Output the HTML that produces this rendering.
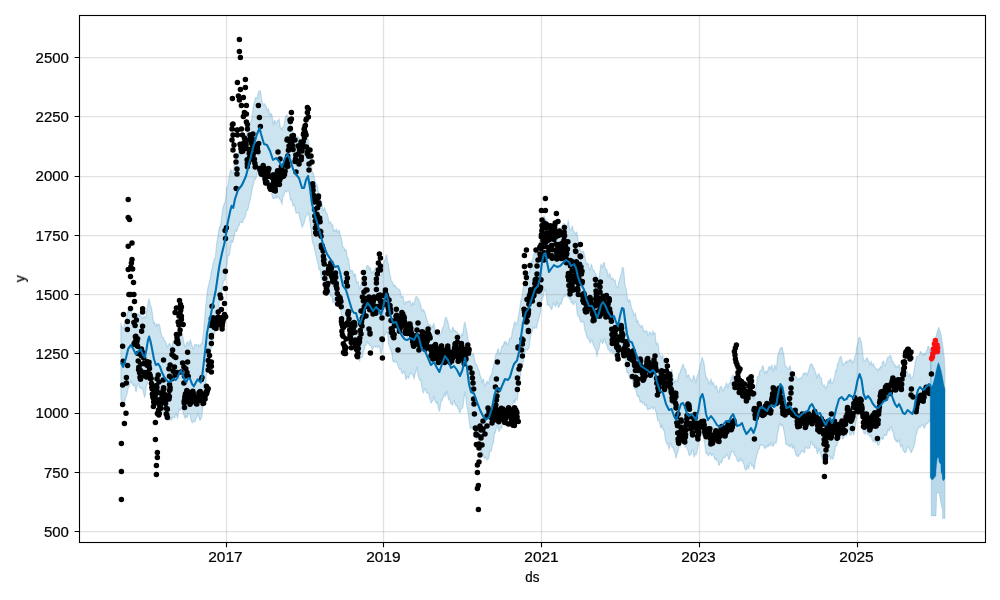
<!DOCTYPE html><html><head><meta charset="utf-8"><title>forecast</title>
<style>html,body{margin:0;padding:0;background:#fff}body{width:1000px;height:600px;overflow:hidden}svg{display:block}text{font-family:"Liberation Sans",sans-serif;fill:#000;stroke:#000;stroke-width:0.22px}</style></head><body>
<svg width="1000" height="600" viewBox="0 0 1000 600">
<rect width="1000" height="600" fill="#fff"/>
<defs><clipPath id="c"><rect x="79.5" y="15.5" width="906.0" height="527.0"/></clipPath></defs>
<g clip-path="url(#c)">
<path d="M120.9 323.3 L121.6 326.1 L122.3 327.1 L123.0 327.9 L123.7 328.2 L124.4 323.8 L125.1 322.1 L125.8 319.7 L126.5 317.5 L127.2 314.9 L127.9 310.5 L128.6 310.2 L129.3 312.4 L130.0 310.0 L130.7 306.2 L131.4 309.4 L132.1 314.6 L132.8 315.5 L133.5 314.2 L134.2 317.6 L134.9 317.6 L135.6 318.6 L136.3 319.4 L137.0 315.3 L137.7 313.6 L138.4 313.5 L139.1 316.1 L139.8 315.0 L140.5 313.4 L141.2 316.4 L141.9 317.2 L142.6 318.5 L143.3 317.4 L144.0 316.2 L144.7 317.8 L145.4 317.7 L146.1 315.5 L146.8 310.0 L147.5 306.4 L148.2 303.2 L148.9 298.6 L149.6 301.2 L150.3 305.4 L151.0 306.1 L151.7 309.1 L152.4 313.9 L153.1 319.0 L153.8 323.6 L154.5 321.9 L155.2 325.4 L155.9 326.4 L156.6 323.5 L157.3 326.1 L158.0 324.5 L158.7 324.0 L159.4 324.6 L160.1 327.6 L160.8 332.9 L161.5 334.6 L162.2 336.9 L162.9 337.2 L163.6 337.8 L164.3 340.4 L165.0 340.9 L165.7 341.9 L166.4 343.9 L167.1 347.0 L167.8 346.0 L168.5 344.9 L169.2 343.2 L169.9 343.5 L170.6 345.7 L171.3 347.0 L172.0 347.0 L172.7 343.2 L173.4 340.8 L174.1 342.8 L174.8 341.5 L175.5 340.9 L176.2 341.1 L176.9 338.1 L177.6 336.7 L178.3 337.7 L179.0 336.2 L179.7 332.3 L180.4 332.6 L181.1 334.8 L181.8 334.8 L182.5 334.3 L183.2 338.6 L183.9 342.8 L184.6 346.1 L185.3 346.7 L186.0 345.0 L186.7 342.8 L187.4 341.6 L188.1 342.9 L188.8 345.5 L189.5 342.5 L190.2 339.6 L190.9 341.8 L191.6 343.9 L192.3 346.4 L193.0 349.0 L193.7 348.6 L194.4 345.2 L195.1 344.4 L195.8 344.7 L196.5 344.2 L197.2 345.6 L197.9 345.8 L198.6 344.5 L199.3 345.2 L200.0 346.6 L200.7 344.8 L201.4 343.2 L202.1 343.3 L202.8 337.6 L203.5 331.8 L204.2 323.4 L204.9 314.7 L205.6 307.0 L206.3 301.4 L207.0 294.5 L207.7 288.6 L208.4 285.9 L209.1 282.9 L209.8 280.2 L210.5 277.1 L211.2 272.1 L211.9 269.1 L212.6 266.0 L213.3 263.5 L214.0 259.6 L214.7 258.4 L215.4 257.5 L216.1 248.9 L216.8 242.6 L217.5 238.8 L218.2 234.6 L218.9 229.0 L219.6 226.8 L220.3 227.3 L221.0 222.2 L221.7 216.1 L222.4 211.4 L223.1 206.9 L223.8 205.2 L224.5 202.8 L225.2 201.7 L225.9 196.7 L226.6 187.5 L227.3 186.9 L228.0 185.9 L228.7 179.1 L229.4 175.9 L230.1 172.1 L230.8 169.4 L231.5 170.9 L232.2 172.9 L232.9 173.6 L233.6 169.3 L234.3 164.3 L235.0 160.4 L235.7 160.1 L236.4 159.7 L237.1 157.6 L237.8 154.6 L238.5 152.0 L239.2 153.3 L239.9 155.8 L240.6 155.1 L241.3 153.4 L242.0 152.4 L242.7 150.5 L243.4 146.3 L244.1 142.1 L244.8 141.1 L245.5 137.3 L246.2 134.0 L246.9 132.3 L247.6 130.5 L248.3 129.6 L249.0 129.9 L249.7 124.7 L250.4 121.8 L251.1 121.4 L251.8 118.7 L252.5 113.1 L253.2 107.1 L253.9 104.1 L254.6 101.5 L255.3 97.9 L256.0 97.4 L256.7 98.1 L257.4 97.0 L258.1 93.5 L258.8 91.1 L259.5 90.9 L260.2 90.7 L260.9 93.4 L261.6 99.5 L262.3 102.4 L263.0 104.0 L263.7 105.0 L264.4 103.5 L265.1 105.2 L265.8 106.1 L266.5 106.9 L267.2 110.3 L267.9 109.9 L268.6 108.7 L269.3 112.6 L270.0 115.4 L270.7 114.1 L271.4 113.5 L272.1 115.9 L272.8 121.5 L273.5 124.7 L274.2 120.8 L274.9 120.5 L275.6 123.7 L276.3 123.0 L277.0 120.9 L277.7 120.8 L278.4 120.5 L279.1 118.9 L279.8 124.1 L280.5 128.3 L281.2 127.7 L281.9 130.4 L282.6 128.4 L283.3 126.0 L284.0 125.7 L284.7 120.6 L285.4 116.6 L286.1 115.9 L286.8 114.8 L287.5 115.4 L288.2 116.7 L288.9 117.7 L289.6 118.3 L290.3 122.2 L291.0 125.6 L291.7 125.9 L292.4 129.2 L293.1 133.4 L293.8 134.0 L294.5 135.7 L295.2 137.4 L295.9 136.8 L296.6 137.7 L297.3 136.3 L298.0 136.7 L298.7 138.3 L299.4 138.0 L300.1 144.1 L300.8 147.2 L301.5 148.0 L302.2 152.2 L302.9 152.6 L303.6 150.8 L304.3 149.4 L305.0 147.6 L305.7 145.9 L306.4 141.9 L307.1 139.5 L307.8 138.7 L308.5 140.0 L309.2 146.6 L309.9 151.8 L310.6 156.3 L311.3 164.0 L312.0 171.2 L312.7 172.6 L313.4 174.0 L314.1 177.1 L314.8 179.4 L315.5 182.6 L316.2 184.4 L316.9 184.7 L317.6 187.3 L318.3 191.7 L319.0 195.3 L319.7 197.6 L320.4 201.2 L321.1 201.0 L321.8 201.9 L322.5 207.2 L323.2 210.8 L323.9 209.0 L324.6 207.5 L325.3 210.6 L326.0 212.2 L326.7 213.0 L327.4 214.4 L328.1 217.3 L328.8 221.5 L329.5 223.6 L330.2 221.8 L330.9 222.0 L331.6 225.5 L332.3 224.2 L333.0 226.4 L333.7 231.5 L334.4 229.7 L335.1 230.7 L335.8 231.2 L336.5 228.9 L337.2 231.3 L337.9 232.7 L338.6 230.7 L339.3 230.2 L340.0 233.9 L340.7 236.7 L341.4 238.6 L342.1 241.8 L342.8 247.4 L343.5 247.6 L344.2 247.8 L344.9 250.9 L345.6 249.5 L346.3 250.5 L347.0 255.5 L347.7 258.7 L348.4 258.5 L349.1 263.0 L349.8 268.5 L350.5 271.6 L351.2 270.9 L351.9 270.1 L352.6 271.0 L353.3 274.3 L354.0 276.4 L354.7 273.5 L355.4 274.2 L356.1 278.6 L356.8 282.8 L357.5 282.3 L358.2 281.5 L358.9 285.8 L359.6 289.1 L360.3 288.1 L361.0 283.8 L361.7 277.3 L362.4 277.8 L363.1 277.1 L363.8 272.0 L364.5 272.0 L365.2 272.4 L365.9 270.5 L366.6 266.7 L367.3 265.7 L368.0 265.6 L368.7 266.5 L369.4 269.1 L370.1 267.6 L370.8 269.3 L371.5 273.1 L372.2 272.9 L372.9 271.1 L373.6 271.7 L374.3 271.2 L375.0 268.4 L375.7 267.1 L376.4 266.9 L377.1 267.8 L377.8 269.6 L378.5 270.8 L379.2 273.8 L379.9 275.5 L380.6 276.1 L381.3 275.5 L382.0 272.4 L382.7 269.2 L383.4 265.7 L384.1 261.1 L384.8 259.8 L385.5 259.6 L386.2 254.9 L386.9 256.0 L387.6 262.1 L388.3 264.2 L389.0 268.5 L389.7 274.0 L390.4 275.8 L391.1 279.7 L391.8 281.4 L392.5 282.0 L393.2 284.8 L393.9 286.7 L394.6 284.9 L395.3 285.4 L396.0 286.8 L396.7 287.7 L397.4 288.3 L398.1 288.8 L398.8 289.1 L399.5 289.7 L400.2 291.2 L400.9 295.2 L401.6 297.5 L402.3 296.0 L403.0 296.1 L403.7 299.9 L404.4 304.3 L405.1 304.2 L405.8 301.8 L406.5 301.5 L407.2 301.6 L407.9 302.2 L408.6 301.3 L409.3 300.8 L410.0 301.0 L410.7 302.9 L411.4 306.2 L412.1 304.8 L412.8 302.0 L413.5 304.3 L414.2 304.5 L414.9 300.4 L415.6 297.6 L416.3 296.3 L417.0 297.1 L417.7 298.8 L418.4 298.9 L419.1 300.5 L419.8 302.5 L420.5 304.2 L421.2 307.4 L421.9 310.8 L422.6 311.2 L423.3 309.3 L424.0 310.7 L424.7 311.9 L425.4 314.2 L426.1 317.1 L426.8 319.5 L427.5 321.7 L428.2 323.2 L428.9 325.2 L429.6 325.3 L430.3 324.5 L431.0 328.8 L431.7 327.3 L432.4 325.4 L433.1 326.9 L433.8 323.2 L434.5 326.1 L435.2 331.3 L435.9 331.8 L436.6 332.4 L437.3 334.6 L438.0 333.1 L438.7 333.0 L439.4 335.8 L440.1 335.2 L440.8 334.4 L441.5 332.2 L442.2 329.2 L442.9 327.6 L443.6 326.2 L444.3 323.4 L445.0 319.5 L445.7 317.3 L446.4 317.8 L447.1 320.2 L447.8 321.0 L448.5 324.7 L449.2 328.6 L449.9 329.6 L450.6 331.7 L451.3 331.6 L452.0 330.5 L452.7 327.0 L453.4 327.9 L454.1 331.0 L454.8 330.6 L455.5 330.6 L456.2 332.2 L456.9 331.3 L457.6 333.0 L458.3 335.2 L459.0 333.6 L459.7 335.1 L460.4 337.6 L461.1 335.6 L461.8 333.9 L462.5 335.7 L463.2 331.3 L463.9 325.4 L464.6 322.2 L465.3 323.2 L466.0 327.9 L466.7 331.1 L467.4 335.3 L468.1 340.0 L468.8 343.4 L469.5 347.8 L470.2 353.3 L470.9 356.3 L471.6 356.2 L472.3 355.3 L473.0 353.3 L473.7 354.4 L474.4 358.4 L475.1 362.3 L475.8 364.3 L476.5 364.5 L477.2 365.7 L477.9 368.3 L478.6 370.0 L479.3 370.9 L480.0 374.7 L480.7 376.4 L481.4 378.2 L482.1 382.9 L482.8 380.0 L483.5 378.8 L484.2 383.2 L484.9 386.1 L485.6 385.2 L486.3 382.4 L487.0 380.8 L487.7 383.4 L488.4 383.0 L489.1 380.7 L489.8 378.1 L490.5 375.6 L491.2 377.0 L491.9 373.0 L492.6 369.0 L493.3 367.0 L494.0 363.7 L494.7 361.2 L495.4 355.9 L496.1 353.7 L496.8 353.7 L497.5 350.2 L498.2 348.6 L498.9 351.4 L499.6 354.1 L500.3 352.9 L501.0 349.8 L501.7 346.8 L502.4 345.9 L503.1 346.5 L503.8 343.4 L504.5 341.4 L505.2 344.0 L505.9 341.4 L506.6 342.1 L507.3 345.1 L508.0 345.2 L508.7 342.3 L509.4 338.8 L510.1 338.0 L510.8 338.4 L511.5 336.8 L512.2 331.6 L512.9 328.8 L513.6 326.3 L514.3 323.0 L515.0 321.4 L515.7 324.1 L516.4 324.1 L517.1 323.5 L517.8 320.3 L518.5 315.2 L519.2 312.8 L519.9 307.2 L520.6 301.3 L521.3 299.6 L522.0 297.0 L522.7 291.5 L523.4 286.8 L524.1 285.1 L524.8 283.9 L525.5 279.7 L526.2 276.6 L526.9 273.5 L527.6 272.6 L528.3 273.4 L529.0 272.6 L529.7 270.6 L530.4 266.1 L531.1 261.1 L531.8 261.7 L532.5 259.9 L533.2 255.7 L533.9 254.6 L534.6 251.7 L535.3 252.5 L536.0 254.8 L536.7 252.0 L537.4 249.8 L538.1 249.0 L538.8 245.8 L539.5 243.4 L540.2 238.0 L540.9 229.7 L541.6 224.3 L542.3 223.3 L543.0 221.7 L543.7 215.9 L544.4 216.2 L545.1 219.2 L545.8 219.2 L546.5 220.4 L547.2 223.0 L547.9 226.3 L548.6 230.5 L549.3 232.0 L550.0 230.5 L550.7 230.2 L551.4 230.7 L552.1 232.7 L552.8 232.6 L553.5 229.5 L554.2 227.5 L554.9 228.4 L555.6 228.7 L556.3 228.4 L557.0 227.4 L557.7 227.3 L558.4 231.1 L559.1 230.2 L559.8 227.9 L560.5 229.6 L561.2 230.5 L561.9 228.0 L562.6 224.6 L563.3 223.8 L564.0 223.6 L564.7 223.8 L565.4 225.6 L566.1 226.9 L566.8 227.0 L567.5 223.7 L568.2 220.4 L568.9 224.3 L569.6 229.4 L570.3 229.8 L571.0 229.8 L571.7 227.2 L572.4 225.9 L573.1 229.5 L573.8 231.0 L574.5 232.3 L575.2 234.3 L575.9 233.0 L576.6 232.0 L577.3 234.8 L578.0 239.8 L578.7 244.2 L579.4 248.2 L580.1 250.3 L580.8 250.1 L581.5 251.3 L582.2 251.6 L582.9 251.8 L583.6 251.2 L584.3 254.2 L585.0 258.0 L585.7 260.3 L586.4 264.5 L587.1 263.6 L587.8 263.1 L588.5 264.8 L589.2 268.4 L589.9 270.4 L590.6 268.0 L591.3 264.1 L592.0 266.0 L592.7 269.7 L593.4 270.5 L594.1 270.3 L594.8 272.6 L595.5 273.6 L596.2 274.3 L596.9 278.1 L597.6 279.8 L598.3 278.9 L599.0 276.8 L599.7 273.3 L600.4 267.5 L601.1 264.0 L601.8 266.2 L602.5 267.5 L603.2 264.1 L603.9 262.1 L604.6 264.0 L605.3 268.2 L606.0 269.5 L606.7 269.3 L607.4 272.0 L608.1 276.8 L608.8 276.0 L609.5 273.2 L610.2 274.9 L610.9 277.8 L611.6 279.3 L612.3 278.0 L613.0 278.3 L613.7 280.4 L614.4 280.2 L615.1 279.9 L615.8 284.1 L616.5 286.2 L617.2 286.9 L617.9 288.0 L618.6 282.5 L619.3 280.8 L620.0 277.7 L620.7 275.7 L621.4 273.8 L622.1 268.1 L622.8 267.3 L623.5 268.7 L624.2 275.5 L624.9 284.3 L625.6 287.0 L626.3 289.4 L627.0 294.6 L627.7 299.6 L628.4 301.8 L629.1 299.8 L629.8 299.8 L630.5 302.3 L631.2 306.4 L631.9 309.0 L632.6 310.0 L633.3 312.5 L634.0 315.4 L634.7 314.3 L635.4 312.9 L636.1 317.7 L636.8 322.1 L637.5 319.9 L638.2 321.3 L638.9 324.5 L639.6 324.8 L640.3 326.3 L641.0 327.0 L641.7 325.1 L642.4 326.1 L643.1 328.1 L643.8 331.6 L644.5 331.0 L645.2 331.5 L645.9 332.4 L646.6 330.1 L647.3 333.1 L648.0 335.8 L648.7 334.6 L649.4 331.7 L650.1 332.3 L650.8 333.2 L651.5 334.6 L652.2 333.2 L652.9 330.5 L653.6 334.4 L654.3 333.7 L655.0 332.4 L655.7 339.3 L656.4 344.2 L657.1 343.9 L657.8 342.7 L658.5 346.2 L659.2 352.3 L659.9 355.2 L660.6 355.2 L661.3 358.5 L662.0 357.1 L662.7 354.8 L663.4 359.2 L664.1 363.0 L664.8 362.5 L665.5 365.5 L666.2 368.0 L666.9 367.4 L667.6 367.4 L668.3 371.0 L669.0 376.4 L669.7 375.4 L670.4 375.2 L671.1 372.2 L671.8 369.4 L672.5 373.5 L673.2 378.8 L673.9 383.0 L674.6 381.7 L675.3 379.6 L676.0 381.0 L676.7 381.6 L677.4 381.1 L678.1 377.0 L678.8 373.8 L679.5 374.0 L680.2 372.0 L680.9 369.6 L681.6 368.1 L682.3 365.7 L683.0 364.1 L683.7 365.6 L684.4 369.1 L685.1 369.4 L685.8 369.2 L686.5 375.2 L687.2 377.4 L687.9 375.0 L688.6 374.7 L689.3 377.1 L690.0 377.9 L690.7 379.2 L691.4 381.2 L692.1 380.7 L692.8 378.8 L693.5 375.6 L694.2 375.8 L694.9 378.7 L695.6 382.5 L696.3 381.6 L697.0 376.5 L697.7 374.7 L698.4 373.6 L699.1 370.5 L699.8 366.9 L700.5 363.9 L701.2 362.1 L701.9 357.4 L702.6 358.0 L703.3 361.3 L704.0 362.7 L704.7 368.0 L705.4 373.7 L706.1 377.4 L706.8 377.3 L707.5 379.6 L708.2 380.4 L708.9 383.1 L709.6 384.1 L710.3 380.7 L711.0 378.9 L711.7 382.8 L712.4 384.3 L713.1 381.8 L713.8 384.1 L714.5 385.9 L715.2 387.8 L715.9 386.5 L716.6 385.4 L717.3 389.5 L718.0 391.6 L718.7 392.5 L719.4 389.4 L720.1 387.1 L720.8 387.0 L721.5 386.1 L722.2 389.4 L722.9 390.7 L723.6 389.7 L724.3 387.8 L725.0 386.6 L725.7 385.7 L726.4 382.7 L727.1 384.4 L727.8 387.7 L728.5 384.9 L729.2 383.0 L729.9 383.6 L730.6 380.2 L731.3 378.1 L732.0 376.7 L732.7 374.9 L733.4 376.0 L734.1 379.5 L734.8 383.0 L735.5 383.5 L736.2 383.1 L736.9 386.3 L737.6 389.4 L738.3 388.6 L739.0 386.7 L739.7 386.5 L740.4 388.2 L741.1 389.0 L741.8 385.1 L742.5 384.8 L743.2 388.4 L743.9 392.5 L744.6 395.1 L745.3 394.5 L746.0 393.9 L746.7 397.1 L747.4 397.4 L748.1 394.1 L748.8 392.8 L749.5 394.8 L750.2 393.8 L750.9 391.0 L751.6 392.2 L752.3 392.9 L753.0 396.5 L753.7 399.1 L754.4 394.8 L755.1 389.2 L755.8 388.8 L756.5 385.2 L757.2 377.8 L757.9 376.7 L758.6 376.2 L759.3 372.8 L760.0 370.6 L760.7 370.6 L761.4 370.5 L762.1 367.0 L762.8 365.6 L763.5 367.9 L764.2 371.3 L764.9 373.6 L765.6 371.7 L766.3 371.0 L767.0 372.8 L767.7 370.8 L768.4 368.4 L769.1 366.2 L769.8 367.3 L770.5 369.2 L771.2 366.8 L771.9 364.8 L772.6 368.5 L773.3 371.2 L774.0 369.1 L774.7 364.5 L775.4 366.9 L776.1 369.7 L776.8 364.9 L777.5 356.5 L778.2 354.3 L778.9 352.6 L779.6 349.7 L780.3 348.0 L781.0 348.1 L781.7 347.1 L782.4 348.0 L783.1 352.1 L783.8 354.2 L784.5 360.8 L785.2 366.2 L785.9 366.8 L786.6 366.4 L787.3 368.3 L788.0 369.4 L788.7 369.1 L789.4 366.8 L790.1 365.7 L790.8 369.6 L791.5 373.7 L792.2 371.8 L792.9 371.8 L793.6 375.9 L794.3 374.5 L795.0 375.8 L795.7 377.1 L796.4 376.7 L797.1 379.1 L797.8 379.7 L798.5 378.9 L799.2 378.1 L799.9 378.7 L800.6 378.0 L801.3 377.6 L802.0 377.0 L802.7 375.6 L803.4 373.2 L804.1 372.9 L804.8 374.5 L805.5 372.5 L806.2 373.4 L806.9 375.7 L807.6 374.1 L808.3 370.5 L809.0 368.8 L809.7 366.8 L810.4 364.1 L811.1 364.8 L811.8 364.0 L812.5 364.8 L813.2 368.1 L813.9 367.7 L814.6 369.6 L815.3 371.7 L816.0 373.5 L816.7 378.0 L817.4 377.5 L818.1 374.0 L818.8 373.8 L819.5 375.0 L820.2 377.3 L820.9 377.6 L821.6 378.8 L822.3 384.3 L823.0 385.3 L823.7 385.9 L824.4 384.8 L825.1 386.9 L825.8 388.8 L826.5 386.5 L827.2 386.9 L827.9 381.9 L828.6 380.5 L829.3 383.2 L830.0 379.3 L830.7 378.5 L831.4 383.3 L832.1 383.0 L832.8 381.9 L833.5 380.7 L834.2 378.2 L834.9 374.7 L835.6 370.4 L836.3 371.0 L837.0 367.2 L837.7 363.3 L838.4 362.2 L839.1 360.3 L839.8 357.7 L840.5 356.6 L841.2 356.6 L841.9 360.0 L842.6 363.2 L843.3 365.2 L844.0 363.8 L844.7 363.0 L845.4 362.5 L846.1 361.1 L846.8 362.9 L847.5 361.0 L848.2 360.8 L848.9 360.7 L849.6 359.5 L850.3 361.3 L851.0 359.6 L851.7 360.6 L852.4 363.5 L853.1 361.3 L853.8 361.7 L854.5 357.8 L855.2 355.8 L855.9 354.1 L856.6 347.8 L857.3 345.2 L858.0 342.8 L858.7 338.1 L859.4 337.3 L860.1 338.1 L860.8 340.5 L861.5 343.6 L862.2 347.2 L862.9 355.4 L863.6 360.1 L864.3 360.4 L865.0 360.9 L865.7 360.2 L866.4 358.1 L867.1 357.9 L867.8 359.6 L868.5 361.3 L869.2 361.7 L869.9 364.6 L870.6 363.9 L871.3 361.1 L872.0 364.8 L872.7 365.3 L873.4 363.4 L874.1 365.7 L874.8 366.9 L875.5 367.8 L876.2 368.7 L876.9 369.0 L877.6 371.0 L878.3 369.1 L879.0 368.6 L879.7 369.1 L880.4 366.2 L881.1 367.6 L881.8 367.1 L882.5 362.4 L883.2 360.8 L883.9 362.1 L884.6 365.2 L885.3 365.6 L886.0 363.3 L886.7 360.7 L887.4 357.7 L888.1 357.4 L888.8 357.8 L889.5 355.6 L890.2 355.7 L890.9 355.7 L891.6 358.8 L892.3 362.2 L893.0 361.2 L893.7 363.8 L894.4 364.6 L895.1 364.6 L895.8 367.3 L896.5 367.0 L897.2 365.9 L897.9 367.3 L898.6 366.0 L899.3 364.2 L900.0 369.8 L900.7 369.4 L901.4 367.6 L902.1 371.5 L902.8 374.6 L903.5 375.5 L904.2 377.2 L904.9 376.8 L905.6 373.7 L906.3 373.2 L907.0 371.0 L907.7 372.8 L908.4 376.6 L909.1 376.4 L909.8 373.5 L910.5 374.9 L911.2 378.8 L911.9 377.7 L912.6 377.5 L913.3 375.3 L914.0 370.9 L914.7 366.3 L915.4 361.9 L916.1 358.6 L916.8 356.3 L917.5 356.7 L918.2 356.0 L918.9 355.4 L919.6 354.4 L920.3 351.5 L921.0 351.5 L921.7 353.0 L922.4 354.5 L923.1 355.3 L923.8 353.3 L924.5 353.2 L925.2 355.2 L925.9 352.3 L926.6 351.2 L927.3 349.6 L928.0 346.1 L928.7 346.4 L929.4 348.6 L930.1 352.5 L930.8 353.2 L931.0 350.7 L931.0 421.7 L930.8 422.3 L930.1 420.9 L929.4 420.1 L928.7 422.0 L928.0 423.0 L927.3 423.9 L926.6 423.0 L925.9 424.2 L925.2 426.2 L924.5 428.1 L923.8 428.1 L923.1 424.3 L922.4 424.9 L921.7 425.4 L921.0 426.1 L920.3 427.0 L919.6 426.4 L918.9 428.0 L918.2 428.5 L917.5 429.8 L916.8 433.7 L916.1 434.6 L915.4 439.5 L914.7 444.3 L914.0 446.2 L913.3 448.5 L912.6 449.5 L911.9 451.2 L911.2 453.0 L910.5 450.9 L909.8 449.7 L909.1 448.5 L908.4 446.8 L907.7 446.6 L907.0 447.7 L906.3 452.0 L905.6 451.8 L904.9 452.7 L904.2 452.0 L903.5 450.6 L902.8 449.7 L902.1 445.4 L901.4 445.7 L900.7 447.1 L900.0 444.1 L899.3 439.6 L898.6 440.9 L897.9 442.6 L897.2 440.3 L896.5 441.8 L895.8 441.1 L895.1 438.4 L894.4 439.0 L893.7 435.9 L893.0 432.0 L892.3 431.0 L891.6 428.7 L890.9 426.8 L890.2 427.9 L889.5 430.8 L888.8 430.6 L888.1 429.3 L887.4 432.2 L886.7 434.9 L886.0 435.7 L885.3 434.7 L884.6 435.1 L883.9 436.2 L883.2 439.0 L882.5 439.4 L881.8 437.9 L881.1 438.8 L880.4 439.0 L879.7 442.5 L879.0 444.3 L878.3 445.3 L877.6 444.7 L876.9 441.5 L876.2 442.3 L875.5 442.7 L874.8 439.8 L874.1 441.5 L873.4 441.8 L872.7 440.8 L872.0 440.0 L871.3 435.7 L870.6 435.4 L869.9 437.0 L869.2 433.9 L868.5 432.8 L867.8 435.2 L867.1 432.5 L866.4 430.3 L865.7 433.7 L865.0 434.0 L864.3 433.7 L863.6 432.6 L862.9 427.4 L862.2 420.2 L861.5 413.4 L860.8 413.1 L860.1 410.8 L859.4 410.3 L858.7 414.9 L858.0 414.8 L857.3 414.7 L856.6 418.5 L855.9 422.4 L855.2 427.9 L854.5 430.6 L853.8 435.0 L853.1 434.0 L852.4 430.3 L851.7 433.3 L851.0 435.2 L850.3 435.0 L849.6 434.2 L848.9 431.1 L848.2 430.0 L847.5 430.9 L846.8 435.0 L846.1 435.8 L845.4 433.2 L844.7 434.6 L844.0 436.9 L843.3 438.6 L842.6 439.1 L841.9 436.7 L841.2 435.4 L840.5 435.5 L839.8 437.1 L839.1 436.0 L838.4 439.0 L837.7 443.1 L837.0 445.2 L836.3 446.4 L835.6 445.6 L834.9 450.2 L834.2 454.5 L833.5 457.0 L832.8 459.3 L832.1 457.7 L831.4 457.1 L830.7 459.6 L830.0 456.6 L829.3 455.5 L828.6 457.5 L827.9 456.4 L827.2 455.9 L826.5 458.8 L825.8 461.5 L825.1 460.0 L824.4 457.0 L823.7 456.3 L823.0 458.2 L822.3 459.1 L821.6 457.2 L820.9 454.2 L820.2 452.8 L819.5 449.9 L818.8 448.4 L818.1 451.8 L817.4 454.1 L816.7 451.4 L816.0 446.4 L815.3 447.2 L814.6 448.0 L813.9 444.5 L813.2 445.2 L812.5 445.1 L811.8 441.8 L811.1 441.9 L810.4 444.9 L809.7 447.8 L809.0 448.1 L808.3 448.4 L807.6 448.6 L806.9 447.9 L806.2 446.8 L805.5 447.7 L804.8 450.6 L804.1 453.0 L803.4 452.0 L802.7 450.9 L802.0 451.4 L801.3 451.2 L800.6 453.3 L799.9 454.6 L799.2 454.6 L798.5 456.6 L797.8 456.3 L797.1 454.8 L796.4 456.1 L795.7 454.1 L795.0 451.6 L794.3 448.7 L793.6 445.3 L792.9 448.2 L792.2 448.3 L791.5 444.0 L790.8 445.2 L790.1 446.9 L789.4 446.8 L788.7 445.0 L788.0 445.6 L787.3 444.9 L786.6 444.4 L785.9 444.2 L785.2 438.7 L784.5 434.0 L783.8 430.4 L783.1 427.2 L782.4 424.7 L781.7 425.5 L781.0 425.9 L780.3 423.1 L779.6 424.1 L778.9 427.9 L778.2 431.1 L777.5 434.2 L776.8 439.8 L776.1 443.4 L775.4 442.5 L774.7 443.0 L774.0 444.6 L773.3 446.2 L772.6 446.4 L771.9 443.8 L771.2 442.9 L770.5 445.9 L769.8 445.2 L769.1 444.1 L768.4 446.5 L767.7 445.3 L767.0 447.2 L766.3 447.2 L765.6 446.9 L764.9 448.9 L764.2 447.0 L763.5 445.3 L762.8 444.6 L762.1 445.3 L761.4 445.4 L760.7 444.7 L760.0 445.4 L759.3 449.0 L758.6 449.5 L757.9 451.2 L757.2 454.2 L756.5 456.9 L755.8 459.6 L755.1 463.4 L754.4 469.0 L753.7 468.8 L753.0 465.1 L752.3 466.0 L751.6 466.1 L750.9 463.6 L750.2 462.9 L749.5 464.2 L748.8 468.8 L748.1 468.0 L747.4 465.8 L746.7 469.7 L746.0 469.9 L745.3 469.4 L744.6 467.9 L743.9 464.1 L743.2 463.2 L742.5 460.0 L741.8 460.1 L741.1 461.3 L740.4 458.2 L739.7 459.8 L739.0 461.7 L738.3 461.6 L737.6 461.1 L736.9 459.7 L736.2 457.6 L735.5 456.2 L734.8 455.3 L734.1 453.9 L733.4 451.5 L732.7 451.7 L732.0 451.5 L731.3 452.3 L730.6 454.9 L729.9 456.5 L729.2 459.4 L728.5 459.5 L727.8 455.9 L727.1 454.3 L726.4 454.9 L725.7 455.9 L725.0 457.7 L724.3 457.4 L723.6 457.6 L722.9 458.5 L722.2 460.8 L721.5 462.7 L720.8 462.0 L720.1 462.7 L719.4 465.3 L718.7 465.2 L718.0 461.0 L717.3 460.7 L716.6 460.7 L715.9 457.9 L715.2 459.6 L714.5 459.1 L713.8 456.1 L713.1 454.4 L712.4 453.9 L711.7 456.0 L711.0 454.7 L710.3 452.7 L709.6 454.3 L708.9 455.2 L708.2 455.9 L707.5 453.6 L706.8 452.6 L706.1 454.3 L705.4 449.5 L704.7 443.5 L704.0 439.1 L703.3 437.1 L702.6 433.9 L701.9 431.3 L701.2 428.5 L700.5 431.5 L699.8 437.2 L699.1 439.4 L698.4 444.0 L697.7 448.3 L697.0 451.7 L696.3 454.8 L695.6 453.8 L694.9 455.0 L694.2 457.1 L693.5 454.3 L692.8 449.4 L692.1 450.0 L691.4 453.6 L690.7 454.4 L690.0 454.9 L689.3 455.7 L688.6 453.9 L687.9 450.3 L687.2 448.8 L686.5 446.8 L685.8 446.8 L685.1 447.1 L684.4 443.8 L683.7 440.5 L683.0 441.1 L682.3 441.0 L681.6 439.3 L680.9 442.3 L680.2 446.9 L679.5 445.5 L678.8 447.4 L678.1 451.9 L677.4 451.9 L676.7 455.9 L676.0 458.4 L675.3 454.0 L674.6 452.0 L673.9 450.7 L673.2 448.1 L672.5 447.7 L671.8 446.7 L671.1 444.6 L670.4 442.8 L669.7 445.8 L669.0 449.8 L668.3 445.7 L667.6 443.6 L666.9 444.0 L666.2 442.1 L665.5 440.2 L664.8 435.1 L664.1 430.7 L663.4 430.4 L662.7 428.3 L662.0 424.8 L661.3 427.6 L660.6 428.1 L659.9 424.2 L659.2 421.8 L658.5 420.3 L657.8 420.7 L657.1 417.7 L656.4 412.7 L655.7 411.6 L655.0 408.2 L654.3 407.2 L653.6 408.3 L652.9 409.3 L652.2 406.6 L651.5 406.6 L650.8 408.6 L650.1 409.0 L649.4 408.4 L648.7 408.5 L648.0 410.1 L647.3 408.8 L646.6 406.0 L645.9 404.6 L645.2 405.6 L644.5 405.2 L643.8 402.7 L643.1 402.6 L642.4 403.8 L641.7 401.4 L641.0 400.9 L640.3 402.3 L639.6 399.8 L638.9 395.7 L638.2 397.1 L637.5 396.2 L636.8 394.6 L636.1 390.6 L635.4 386.9 L634.7 388.8 L634.0 388.4 L633.3 384.0 L632.6 381.9 L631.9 378.9 L631.2 378.2 L630.5 379.4 L629.8 378.8 L629.1 376.9 L628.4 372.4 L627.7 372.2 L627.0 372.5 L626.3 368.2 L625.6 362.4 L624.9 355.2 L624.2 348.6 L623.5 345.1 L622.8 346.2 L622.1 343.9 L621.4 343.9 L620.7 347.2 L620.0 352.8 L619.3 358.9 L618.6 359.1 L617.9 359.0 L617.2 359.4 L616.5 358.3 L615.8 358.3 L615.1 357.1 L614.4 351.8 L613.7 351.1 L613.0 354.4 L612.3 352.3 L611.6 349.4 L610.9 350.9 L610.2 352.8 L609.5 350.1 L608.8 349.7 L608.1 349.8 L607.4 347.2 L606.7 344.5 L606.0 343.6 L605.3 343.0 L604.6 338.1 L603.9 339.9 L603.2 342.9 L602.5 343.6 L601.8 342.0 L601.1 339.6 L600.4 341.6 L599.7 344.8 L599.0 348.6 L598.3 350.0 L597.6 352.6 L596.9 356.9 L596.2 351.3 L595.5 349.5 L594.8 347.9 L594.1 346.1 L593.4 345.7 L592.7 342.4 L592.0 340.3 L591.3 339.6 L590.6 343.0 L589.9 342.8 L589.2 339.7 L588.5 339.0 L587.8 337.6 L587.1 337.8 L586.4 335.4 L585.7 331.6 L585.0 331.5 L584.3 326.3 L583.6 322.1 L582.9 321.3 L582.2 321.9 L581.5 322.3 L580.8 322.1 L580.1 320.4 L579.4 317.3 L578.7 316.5 L578.0 316.2 L577.3 314.4 L576.6 307.9 L575.9 302.8 L575.2 301.6 L574.5 302.2 L573.8 304.1 L573.1 304.8 L572.4 302.4 L571.7 302.8 L571.0 302.4 L570.3 297.8 L569.6 299.4 L568.9 297.3 L568.2 296.9 L567.5 297.1 L566.8 294.6 L566.1 294.3 L565.4 295.9 L564.7 296.4 L564.0 296.1 L563.3 297.7 L562.6 298.9 L561.9 301.6 L561.2 304.4 L560.5 303.1 L559.8 304.0 L559.1 307.1 L558.4 307.7 L557.7 304.4 L557.0 301.4 L556.3 304.7 L555.6 306.8 L554.9 305.1 L554.2 305.3 L553.5 302.9 L552.8 304.0 L552.1 308.8 L551.4 309.7 L550.7 308.2 L550.0 306.3 L549.3 306.0 L548.6 304.3 L547.9 305.1 L547.2 304.9 L546.5 297.3 L545.8 290.5 L545.1 289.5 L544.4 291.0 L543.7 295.0 L543.0 297.6 L542.3 298.7 L541.6 301.4 L540.9 308.7 L540.2 313.9 L539.5 315.0 L538.8 319.9 L538.1 321.2 L537.4 323.6 L536.7 328.3 L536.0 327.0 L535.3 327.3 L534.6 328.8 L533.9 327.3 L533.2 327.2 L532.5 329.9 L531.8 332.6 L531.1 334.3 L530.4 336.9 L529.7 343.4 L529.0 348.6 L528.3 348.6 L527.6 350.2 L526.9 349.6 L526.2 349.7 L525.5 351.1 L524.8 352.7 L524.1 356.3 L523.4 360.1 L522.7 365.9 L522.0 367.1 L521.3 367.6 L520.6 374.9 L519.9 381.6 L519.2 387.2 L518.5 390.0 L517.8 395.5 L517.1 400.6 L516.4 398.7 L515.7 398.4 L515.0 403.2 L514.3 402.5 L513.6 400.3 L512.9 404.5 L512.2 408.0 L511.5 410.6 L510.8 412.8 L510.1 415.9 L509.4 416.3 L508.7 415.1 L508.0 416.2 L507.3 417.7 L506.6 419.3 L505.9 418.7 L505.2 420.3 L504.5 423.1 L503.8 423.4 L503.1 422.0 L502.4 424.5 L501.7 428.8 L501.0 427.4 L500.3 427.6 L499.6 431.1 L498.9 431.7 L498.2 428.6 L497.5 425.6 L496.8 426.1 L496.1 429.4 L495.4 432.4 L494.7 432.9 L494.0 437.7 L493.3 443.6 L492.6 444.0 L491.9 447.6 L491.2 451.4 L490.5 450.5 L489.8 451.0 L489.1 456.9 L488.4 459.1 L487.7 459.1 L487.0 460.3 L486.3 458.3 L485.6 456.8 L484.9 458.7 L484.2 457.9 L483.5 456.9 L482.8 452.5 L482.1 451.4 L481.4 453.4 L480.7 450.7 L480.0 447.5 L479.3 444.2 L478.6 438.8 L477.9 437.0 L477.2 438.8 L476.5 439.6 L475.8 436.7 L475.1 433.7 L474.4 430.7 L473.7 430.4 L473.0 429.7 L472.3 426.8 L471.6 427.2 L470.9 428.9 L470.2 427.8 L469.5 423.9 L468.8 417.4 L468.1 412.8 L467.4 409.0 L466.7 404.9 L466.0 398.5 L465.3 392.0 L464.6 394.6 L463.9 400.0 L463.2 404.9 L462.5 408.2 L461.8 408.5 L461.1 408.6 L460.4 411.5 L459.7 412.9 L459.0 410.3 L458.3 409.6 L457.6 407.2 L456.9 405.3 L456.2 406.2 L455.5 404.8 L454.8 403.5 L454.1 400.3 L453.4 401.1 L452.7 405.2 L452.0 404.2 L451.3 404.1 L450.6 403.7 L449.9 399.0 L449.2 399.4 L448.5 400.1 L447.8 394.9 L447.1 391.1 L446.4 393.3 L445.7 396.6 L445.0 392.9 L444.3 394.6 L443.6 397.4 L442.9 398.2 L442.2 400.9 L441.5 400.1 L440.8 402.7 L440.1 408.4 L439.4 411.3 L438.7 409.8 L438.0 405.6 L437.3 401.8 L436.6 403.6 L435.9 402.4 L435.2 401.0 L434.5 398.6 L433.8 396.1 L433.1 400.6 L432.4 401.1 L431.7 402.3 L431.0 403.1 L430.3 400.2 L429.6 398.1 L428.9 393.4 L428.2 393.4 L427.5 392.7 L426.8 393.2 L426.1 391.1 L425.4 388.4 L424.7 389.1 L424.0 391.4 L423.3 393.2 L422.6 390.4 L421.9 387.3 L421.2 381.9 L420.5 379.4 L419.8 380.6 L419.1 378.4 L418.4 376.3 L417.7 372.9 L417.0 367.1 L416.3 370.5 L415.6 372.0 L414.9 375.0 L414.2 379.1 L413.5 376.9 L412.8 375.0 L412.1 374.5 L411.4 373.5 L410.7 372.6 L410.0 374.1 L409.3 376.8 L408.6 378.4 L407.9 376.8 L407.2 376.4 L406.5 378.9 L405.8 379.4 L405.1 375.3 L404.4 371.9 L403.7 371.3 L403.0 373.1 L402.3 373.9 L401.6 372.3 L400.9 369.8 L400.2 369.1 L399.5 369.4 L398.8 368.0 L398.1 366.2 L397.4 364.0 L396.7 362.1 L396.0 361.5 L395.3 362.5 L394.6 361.4 L393.9 360.8 L393.2 362.2 L392.5 358.9 L391.8 352.7 L391.1 351.1 L390.4 349.2 L389.7 347.0 L389.0 345.7 L388.3 341.6 L387.6 334.1 L386.9 331.6 L386.2 332.9 L385.5 334.2 L384.8 335.2 L384.1 337.5 L383.4 341.4 L382.7 346.6 L382.0 350.5 L381.3 353.8 L380.6 353.1 L379.9 348.2 L379.2 346.5 L378.5 346.1 L377.8 347.9 L377.1 346.7 L376.4 346.0 L375.7 347.2 L375.0 346.3 L374.3 346.7 L373.6 346.7 L372.9 348.8 L372.2 349.8 L371.5 347.3 L370.8 345.5 L370.1 346.0 L369.4 345.0 L368.7 343.0 L368.0 343.9 L367.3 341.3 L366.6 342.0 L365.9 345.4 L365.2 345.0 L364.5 349.2 L363.8 350.8 L363.1 352.9 L362.4 356.8 L361.7 357.6 L361.0 356.5 L360.3 358.7 L359.6 361.5 L358.9 357.6 L358.2 357.7 L357.5 357.1 L356.8 352.0 L356.1 351.4 L355.4 351.2 L354.7 349.9 L354.0 349.0 L353.3 349.2 L352.6 346.1 L351.9 345.0 L351.2 345.0 L350.5 341.1 L349.8 339.3 L349.1 335.4 L348.4 333.0 L347.7 330.3 L347.0 328.1 L346.3 326.1 L345.6 323.4 L344.9 323.0 L344.2 322.2 L343.5 324.1 L342.8 322.0 L342.1 318.1 L341.4 315.2 L340.7 311.7 L340.0 307.0 L339.3 305.5 L338.6 305.9 L337.9 304.4 L337.2 304.0 L336.5 303.8 L335.8 303.7 L335.1 304.5 L334.4 301.5 L333.7 299.8 L333.0 302.9 L332.3 298.8 L331.6 295.1 L330.9 296.7 L330.2 295.1 L329.5 291.2 L328.8 289.6 L328.1 289.0 L327.4 291.2 L326.7 293.0 L326.0 288.3 L325.3 282.4 L324.6 283.4 L323.9 285.3 L323.2 281.4 L322.5 278.8 L321.8 279.8 L321.1 277.5 L320.4 271.1 L319.7 268.6 L319.0 270.0 L318.3 265.2 L317.6 261.4 L316.9 260.2 L316.2 256.5 L315.5 253.7 L314.8 250.8 L314.1 247.0 L313.4 244.1 L312.7 243.4 L312.0 239.4 L311.3 231.4 L310.6 227.0 L309.9 221.9 L309.2 217.5 L308.5 213.3 L307.8 212.9 L307.1 214.7 L306.4 216.0 L305.7 217.0 L305.0 219.3 L304.3 222.8 L303.6 223.7 L302.9 226.0 L302.2 227.6 L301.5 225.1 L300.8 220.7 L300.1 219.8 L299.4 216.2 L298.7 212.7 L298.0 213.0 L297.3 212.5 L296.6 213.2 L295.9 213.0 L295.2 208.8 L294.5 204.9 L293.8 204.9 L293.1 206.2 L292.4 203.2 L291.7 199.7 L291.0 200.6 L290.3 199.2 L289.6 194.3 L288.9 190.9 L288.2 190.1 L287.5 190.8 L286.8 191.8 L286.1 191.6 L285.4 190.8 L284.7 192.3 L284.0 195.5 L283.3 196.1 L282.6 198.9 L281.9 204.7 L281.2 202.2 L280.5 199.8 L279.8 199.6 L279.1 197.9 L278.4 196.3 L277.7 196.8 L277.0 198.4 L276.3 195.8 L275.6 197.7 L274.9 198.7 L274.2 197.7 L273.5 198.5 L272.8 198.4 L272.1 195.6 L271.4 192.3 L270.7 190.0 L270.0 191.6 L269.3 191.4 L268.6 186.5 L267.9 184.1 L267.2 182.1 L266.5 183.5 L265.8 185.7 L265.1 182.8 L264.4 183.9 L263.7 183.9 L263.0 178.9 L262.3 177.8 L261.6 177.7 L260.9 172.9 L260.2 169.4 L259.5 167.3 L258.8 168.0 L258.1 168.7 L257.4 171.3 L256.7 175.3 L256.0 178.5 L255.3 179.6 L254.6 178.5 L253.9 181.8 L253.2 185.3 L252.5 187.2 L251.8 191.4 L251.1 195.3 L250.4 199.0 L249.7 201.9 L249.0 204.1 L248.3 207.7 L247.6 210.3 L246.9 210.1 L246.2 211.6 L245.5 215.8 L244.8 218.1 L244.1 218.3 L243.4 219.9 L242.7 222.8 L242.0 222.2 L241.3 222.4 L240.6 222.1 L239.9 222.4 L239.2 225.4 L238.5 226.5 L237.8 227.3 L237.1 230.7 L236.4 231.4 L235.7 230.1 L235.0 232.2 L234.3 236.5 L233.6 238.7 L232.9 242.2 L232.2 242.2 L231.5 240.8 L230.8 245.9 L230.1 250.3 L229.4 254.6 L228.7 256.0 L228.0 255.3 L227.3 261.2 L226.6 266.4 L225.9 270.9 L225.2 279.4 L224.5 280.3 L223.8 280.5 L223.1 283.2 L222.4 286.9 L221.7 290.7 L221.0 293.4 L220.3 296.0 L219.6 298.9 L218.9 306.4 L218.2 313.5 L217.5 315.7 L216.8 318.1 L216.1 322.5 L215.4 328.9 L214.7 333.4 L214.0 333.5 L213.3 337.5 L212.6 343.9 L211.9 346.8 L211.2 347.6 L210.5 352.4 L209.8 357.8 L209.1 361.6 L208.4 362.7 L207.7 363.8 L207.0 368.1 L206.3 376.2 L205.6 384.7 L204.9 391.5 L204.2 397.3 L203.5 402.3 L202.8 406.8 L202.1 414.3 L201.4 418.1 L200.7 418.9 L200.0 420.6 L199.3 418.9 L198.6 414.7 L197.9 412.9 L197.2 416.4 L196.5 417.8 L195.8 419.0 L195.1 421.8 L194.4 421.0 L193.7 421.6 L193.0 421.7 L192.3 422.7 L191.6 421.6 L190.9 419.8 L190.2 415.2 L189.5 414.0 L188.8 413.8 L188.1 413.3 L187.4 417.2 L186.7 417.4 L186.0 415.8 L185.3 418.4 L184.6 417.6 L183.9 415.0 L183.2 413.1 L182.5 409.4 L181.8 408.5 L181.1 408.5 L180.4 410.4 L179.7 409.9 L179.0 409.3 L178.3 413.3 L177.6 418.6 L176.9 416.0 L176.2 414.4 L175.5 414.8 L174.8 418.1 L174.1 417.4 L173.4 417.3 L172.7 418.3 L172.0 417.5 L171.3 420.4 L170.6 419.2 L169.9 419.9 L169.2 420.2 L168.5 418.4 L167.8 416.4 L167.1 416.6 L166.4 419.5 L165.7 418.1 L165.0 417.9 L164.3 416.1 L163.6 412.0 L162.9 412.4 L162.2 410.6 L161.5 406.7 L160.8 403.4 L160.1 402.1 L159.4 402.4 L158.7 400.2 L158.0 401.6 L157.3 401.4 L156.6 398.8 L155.9 400.0 L155.2 400.6 L154.5 400.7 L153.8 399.0 L153.1 395.3 L152.4 392.6 L151.7 385.5 L151.0 378.7 L150.3 376.3 L149.6 373.8 L148.9 376.1 L148.2 380.5 L147.5 383.9 L146.8 384.5 L146.1 388.5 L145.4 395.0 L144.7 397.6 L144.0 394.6 L143.3 392.5 L142.6 388.8 L141.9 387.7 L141.2 388.8 L140.5 387.4 L139.8 387.9 L139.1 385.8 L138.4 383.3 L137.7 384.6 L137.0 387.2 L136.3 391.6 L135.6 390.9 L134.9 385.3 L134.2 383.9 L133.5 386.3 L132.8 384.7 L132.1 382.4 L131.4 383.0 L130.7 380.7 L130.0 383.4 L129.3 386.3 L128.6 386.8 L127.9 389.3 L127.2 393.3 L126.5 396.0 L125.8 397.2 L125.1 400.2 L124.4 403.3 L123.7 404.3 L123.0 405.1 L122.3 404.8 L121.6 401.7 L120.9 397.8Z" fill="#0072B2" fill-opacity="0.2" stroke="#0072B2" stroke-opacity="0.2" stroke-width="1.2" stroke-linejoin="round"/>
<path d="M930.6 350.0 L933.0 346.5 L935.0 339.5 L936.5 334.0 L937.6 330.0 L938.8 327.3 L940.0 330.5 L941.2 335.0 L942.3 342.0 L943.2 348.0 L944.4 358.0 L945.0 368.0 L945.0 518.4 L942.6 518.4 L942.6 509.6 L941.8 508.0 L940.2 499.0 L939.0 492.4 L937.6 493.0 L936.6 494.4 L936.4 505.0 L936.0 516.0 L931.2 516.0Z" fill="#0072B2" fill-opacity="0.2" stroke="#0072B2" stroke-opacity="0.2" stroke-width="0.8"/>
<path d="M930.6 350.0 L933.0 346.5 L935.0 339.5 L936.5 334.0 L937.6 330.0 L938.8 327.3 L940.0 330.5 L941.2 335.0 L942.3 342.0 L943.2 348.0 L944.4 358.0 L945.0 368.0 L945.0 518.4 L942.6 518.4 L942.6 509.6 L941.8 508.0 L940.2 499.0 L939.0 492.4 L937.6 493.0 L936.6 494.4 L936.4 505.0 L936.0 516.0 L931.2 516.0Z" fill="#0072B2" fill-opacity="0.09"/>
<path d="M226.50 15.5V542.5M383.50 15.5V542.5M541.50 15.5V542.5M699.50 15.5V542.5M857.50 15.5V542.5" stroke="#808080" stroke-opacity="0.23" stroke-width="1.25" fill="none"/>
<path d="M79.5 531.50H985.5M79.5 472.50H985.5M79.5 413.50H985.5M79.5 353.50H985.5M79.5 294.50H985.5M79.5 235.50H985.5M79.5 176.50H985.5M79.5 116.50H985.5M79.5 57.50H985.5" stroke="#808080" stroke-opacity="0.23" stroke-width="1.25" fill="none"/>
<path d="M121.4 499.4h0M121.4 471.4h0M121.4 443.4h0M124.4 423.6h0M126.0 413.2h0M122.6 404.4h0M128.2 199.6h0M128.2 217.5h0M129.5 219.4h0M132.0 243.0h0M128.2 246.2h0M132.0 259.4h0M131.4 263.0h0M130.8 267.0h0M128.2 269.6h0M132.6 269.0h0M130.5 276.5h0M133.5 282.5h0M128.9 294.6h0M130.8 294.6h0M133.9 294.6h0M134.5 301.5h0M130.5 308.4h0M123.5 314.4h0M134.5 315.4h0M127.4 321.5h0M136.4 320.0h0M133.9 322.5h0M135.1 325.6h0M127.4 329.6h0M135.8 336.2h0M137.6 338.8h0M142.6 308.8h0M142.6 311.9h0M142.6 326.2h0M141.6 331.2h0M122.6 346.2h0M123.2 361.2h0M127.6 365.6h0M126.4 377.5h0M122.6 385.0h0M126.4 383.0h0M156.4 474.6h0M156.4 465.4h0M157.4 457.6h0M157.4 452.4h0M155.4 439.4h0M155.4 422.6h0M153.4 406.4h0M157.4 413.6h0M167.4 417.6h0M158.2 375.0h0M157.0 378.8h0M158.9 381.9h0M163.2 380.0h0M163.5 360.0h0M169.5 384.4h0M170.1 387.5h0M170.1 365.0h0M174.5 366.9h0M168.9 368.8h0M173.2 371.2h0M177.0 372.5h0M175.1 375.0h0M169.5 376.2h0M172.0 378.8h0M172.6 350.0h0M172.0 354.4h0M173.9 356.2h0M175.8 357.5h0M179.5 300.4h0M181.4 306.9h0M176.4 308.0h0M180.8 310.0h0M175.1 312.5h0M180.1 313.0h0M181.4 316.2h0M181.4 319.4h0M178.2 321.9h0M181.4 323.8h0M183.2 324.4h0M178.9 325.0h0M180.1 330.0h0M176.4 334.4h0M179.5 333.8h0M177.0 338.0h0M177.6 340.5h0M176.4 342.0h0M178.2 343.5h0M179.0 316.0h0M180.5 304.5h0M182.6 363.0h0M187.6 362.0h0M183.9 366.9h0M185.8 368.8h0M187.0 372.5h0M184.5 376.2h0M188.2 376.2h0M183.9 383.0h0M187.6 352.2h0M181.0 372.0h0M202.0 377.5h0M201.4 379.4h0M206.4 386.2h0M184.5 407.5h0M211.4 337.0h0M211.4 343.5h0M208.2 351.2h0M209.5 355.6h0M208.2 360.6h0M211.4 361.9h0M208.9 365.6h0M211.4 366.2h0M208.2 370.0h0M211.4 371.9h0M212.0 306.2h0M221.4 309.4h0M218.2 311.9h0M224.5 314.4h0M224.5 303.4h0M220.1 295.0h0M220.8 298.0h0M225.4 288.4h0M225.4 271.2h0M211.4 335.6h0M225.5 238.4h0M225.1 230.6h0M226.4 227.8h0M236.2 188.4h0M233.0 124.0h0M232.0 129.0h0M237.0 130.0h0M233.0 135.0h0M232.0 140.0h0M234.0 145.0h0M233.0 150.0h0M236.0 156.0h0M236.0 162.0h0M237.0 169.0h0M237.0 174.0h0M242.0 150.0h0M239.4 39.4h0M239.4 51.4h0M240.4 57.4h0M245.4 79.4h0M237.4 82.6h0M245.4 87.4h0M240.4 89.4h0M232.4 98.4h0M238.4 96.0h0M243.4 97.6h0M239.4 100.0h0M241.4 105.6h0M246.4 105.6h0M244.4 112.4h0M246.4 114.0h0M243.4 116.6h0M246.4 122.0h0M247.4 124.6h0M232.4 124.4h0M247.4 129.0h0M237.4 130.0h0M241.4 129.0h0M237.4 135.0h0M242.4 135.0h0M250.0 135.0h0M253.0 134.0h0M258.4 105.6h0M259.4 117.6h0M260.4 126.6h0M278.0 152.0h0M280.0 159.0h0M287.0 163.0h0M291.4 112.4h0M291.4 119.0h0M290.4 121.4h0M290.4 128.6h0M293.4 135.4h0M287.4 139.0h0M307.4 107.4h0M308.4 109.0h0M307.4 112.4h0M308.4 117.0h0M306.4 119.0h0M305.4 125.4h0M305.4 133.0h0M303.4 134.4h0M304.4 138.0h0M290.0 120.0h0M290.0 129.0h0M292.0 136.0h0M287.0 140.0h0M289.0 146.0h0M292.0 148.0h0M295.0 140.0h0M298.0 146.0h0M301.0 142.0h0M304.0 134.0h0M305.0 126.0h0M306.0 120.0h0M302.0 150.0h0M298.0 154.0h0M296.0 160.0h0M299.0 164.0h0M296.0 172.0h0M310.0 150.0h0M311.0 156.0h0M312.0 162.0h0M309.0 164.0h0M309.0 170.0h0M346.4 273.6h0M347.4 278.0h0M346.4 282.0h0M347.4 286.0h0M341.4 321.4h0M343.4 327.4h0M342.4 335.0h0M370.4 353.0h0M382.4 358.0h0M382.4 339.6h0M369.0 329.0h0M370.0 333.0h0M363.4 272.4h0M364.4 278.6h0M364.4 283.4h0M366.0 290.0h0M364.0 292.0h0M362.4 297.0h0M363.4 301.0h0M379.4 254.0h0M380.4 258.0h0M378.4 263.0h0M380.4 266.0h0M378.4 270.0h0M380.4 270.0h0M377.4 274.0h0M376.4 279.0h0M376.4 283.0h0M376.4 289.4h0M385.4 290.0h0M367.0 290.0h0M369.0 297.0h0M374.0 297.0h0M380.0 295.0h0M373.0 303.0h0M368.0 306.0h0M361.0 311.0h0M366.0 316.0h0M373.0 314.0h0M382.0 318.0h0M389.0 300.0h0M390.0 306.0h0M388.0 314.0h0M362.0 326.0h0M361.0 334.0h0M369.0 329.0h0M370.0 334.0h0M382.0 339.0h0M398.0 350.0h0M418.0 323.0h0M417.0 330.0h0M437.4 332.0h0M457.4 337.4h0M457.4 342.2h0M470.0 368.0h0M472.0 373.0h0M472.4 378.0h0M473.0 383.0h0M473.6 389.0h0M473.6 399.0h0M474.0 404.0h0M474.4 414.0h0M475.4 428.0h0M476.0 434.0h0M476.4 444.6h0M478.4 509.4h0M477.4 488.6h0M478.4 485.6h0M477.4 472.6h0M477.4 465.0h0M479.0 462.0h0M480.0 455.0h0M479.0 448.0h0M477.0 445.0h0M482.0 445.0h0M481.0 437.0h0M476.0 435.0h0M485.0 434.0h0M476.0 428.4h0M483.0 429.0h0M487.0 426.0h0M483.0 421.0h0M480.0 426.0h0M487.0 426.0h0M481.0 430.0h0M485.0 434.0h0M477.0 435.0h0M481.0 438.0h0M479.0 444.0h0M488.0 408.0h0M489.0 412.0h0M487.0 416.0h0M492.0 418.0h0M492.0 423.0h0M498.0 421.0h0M497.4 362.0h0M496.4 379.0h0M495.4 387.0h0M498.0 390.0h0M497.0 396.0h0M496.4 400.0h0M517.4 378.0h0M518.4 383.0h0M517.4 389.4h0M520.0 366.0h0M519.0 369.0h0M518.0 348.0h0M522.0 339.0h0M522.4 344.0h0M521.6 350.0h0M522.4 356.0h0M528.4 331.6h0M508.4 424.0h0M514.4 425.6h0M515.0 422.0h0M527.0 299.6h0M539.4 304.4h0M528.4 330.4h0M523.0 340.0h0M518.0 347.0h0M526.4 250.0h0M524.4 255.4h0M524.4 266.4h0M530.0 265.6h0M525.4 273.0h0M526.4 277.4h0M525.4 283.4h0M538.0 260.0h0M537.0 266.0h0M537.0 274.0h0M536.0 250.0h0M541.0 245.0h0M540.0 254.0h0M545.4 198.4h0M541.4 210.4h0M545.4 210.4h0M556.4 213.6h0M542.0 220.0h0M544.0 223.0h0M558.0 221.6h0M564.4 227.4h0M575.4 245.4h0M580.4 244.4h0M595.4 279.4h0M600.4 282.0h0M596.0 285.0h0M600.0 287.0h0M596.0 291.0h0M600.0 292.0h0M606.4 295.6h0M596.0 298.0h0M602.0 298.0h0M570.0 285.0h0M570.0 290.0h0M570.0 294.0h0M582.0 283.0h0M582.0 295.0h0M583.0 300.0h0M627.4 364.4h0M632.4 376.4h0M636.0 380.0h0M636.0 385.0h0M655.0 356.0h0M654.0 360.0h0M652.0 364.0h0M666.4 360.4h0M667.4 366.0h0M666.4 371.0h0M657.4 395.0h0M675.4 403.0h0M676.0 408.0h0M678.0 414.0h0M736.4 345.0h0M735.4 348.0h0M734.4 351.4h0M735.4 359.0h0M736.0 362.0h0M738.0 367.0h0M740.0 369.0h0M738.0 373.0h0M738.0 377.0h0M737.0 381.0h0M735.0 387.4h0M740.0 383.0h0M743.0 386.0h0M741.0 391.0h0M744.0 394.0h0M746.4 399.0h0M751.0 377.0h0M750.0 382.0h0M752.0 386.0h0M750.0 390.0h0M753.0 394.0h0M748.0 398.0h0M735.0 355.0h0M737.0 364.5h0M739.0 371.0h0M736.0 384.0h0M738.5 388.0h0M742.0 389.0h0M745.0 391.0h0M746.0 395.0h0M749.0 386.0h0M751.5 381.0h0M751.0 392.0h0M749.0 394.0h0M754.4 439.0h0M746.4 401.0h0M734.4 384.0h0M738.0 372.5h0M741.6 381.6h0M744.0 388.8h0M746.4 396.0h0M748.8 379.0h0M751.2 376.8h0M752.4 386.4h0M753.6 393.6h0M739.2 392.4h0M742.8 396.0h0M736.5 378.0h0M739.5 380.0h0M744.5 384.0h0M792.4 374.0h0M791.4 379.0h0M791.0 388.0h0M791.0 393.0h0M789.6 398.4h0M789.6 404.0h0M824.4 476.4h0M825.4 456.0h0M825.4 459.0h0M825.4 462.0h0M824.0 444.0h0M827.0 446.0h0M826.0 450.0h0M831.4 414.0h0M852.4 428.4h0M877.4 438.4h0M903.4 375.0h0M904.4 367.4h0M903.4 362.0h0M906.4 356.0h0M906.0 352.0h0M908.0 349.6h0M911.0 352.0h0M910.0 359.0h0M911.4 389.0h0M911.0 395.0h0M913.0 397.0h0M931.4 374.0h0M134.1 343.8h0M134.4 343.2h0M134.6 344.5h0M135.0 343.4h0M135.1 342.0h0M135.4 336.5h0M135.7 337.6h0M136.0 339.9h0M136.4 343.2h0M136.7 342.4h0M137.0 340.9h0M137.2 339.6h0M137.6 346.2h0M138.0 353.5h0M138.2 361.1h0M138.6 369.8h0M138.8 367.2h0M139.1 368.3h0M139.6 369.9h0M139.6 372.7h0M140.0 377.3h0M140.5 379.3h0M140.6 370.6h0M140.9 364.1h0M141.4 355.8h0M141.4 348.9h0M141.9 351.1h0M142.2 354.5h0M142.4 353.9h0M142.7 353.1h0M142.9 354.4h0M143.3 353.3h0M143.7 357.9h0M143.9 363.6h0M144.4 372.5h0M144.4 372.6h0M144.8 375.0h0M145.2 376.2h0M145.4 375.1h0M145.7 374.3h0M146.1 372.8h0M146.4 377.1h0M146.8 372.6h0M147.0 365.3h0M147.5 361.7h0M147.5 365.5h0M148.0 365.1h0M148.3 364.2h0M148.4 363.6h0M149.0 362.2h0M149.0 366.0h0M149.5 368.5h0M149.6 373.9h0M150.2 375.6h0M150.3 378.2h0M150.5 378.7h0M151.1 378.6h0M151.5 383.5h0M151.8 387.3h0M152.2 389.0h0M152.4 394.0h0M152.8 397.0h0M152.9 396.9h0M153.3 398.3h0M153.7 402.0h0M154.0 400.1h0M154.3 403.8h0M154.6 401.5h0M154.8 396.6h0M155.1 395.7h0M155.5 391.2h0M155.8 386.4h0M156.0 386.1h0M156.5 386.7h0M156.5 385.5h0M156.9 387.2h0M157.1 391.2h0M157.4 392.7h0M157.9 400.0h0M158.1 402.8h0M158.5 409.9h0M158.8 415.0h0M159.1 413.9h0M159.3 413.4h0M159.7 405.8h0M159.8 405.0h0M160.2 405.9h0M160.6 408.6h0M160.9 403.6h0M161.1 401.1h0M161.4 398.6h0M161.8 393.3h0M162.0 394.4h0M162.4 392.6h0M162.7 393.4h0M162.9 391.2h0M163.3 389.7h0M163.6 387.7h0M163.8 388.5h0M164.3 394.1h0M164.4 398.9h0M164.9 400.5h0M165.2 402.3h0M165.4 400.8h0M165.6 403.4h0M166.1 408.2h0M166.3 414.1h0M166.8 414.6h0M166.9 415.2h0M167.2 408.8h0M167.4 409.3h0M168.0 397.9h0M168.2 397.0h0M168.3 396.3h0M168.7 395.2h0M169.0 398.9h0M169.4 396.8h0M169.5 390.4h0M170.0 389.1h0M170.1 389.4h0M184.1 401.8h0M184.2 402.9h0M184.5 400.0h0M184.8 396.8h0M185.3 396.6h0M185.4 394.0h0M185.9 393.4h0M186.0 393.3h0M186.4 394.8h0M186.8 390.4h0M186.9 391.7h0M187.5 391.2h0M187.6 394.8h0M187.9 398.7h0M188.3 401.8h0M188.7 400.6h0M188.9 400.4h0M189.2 401.0h0M189.4 402.0h0M189.7 403.0h0M190.0 404.2h0M190.4 402.3h0M190.6 402.9h0M191.1 400.0h0M191.2 397.1h0M191.7 395.1h0M191.9 396.6h0M192.2 395.3h0M192.5 393.1h0M192.8 391.2h0M193.1 392.8h0M193.2 392.8h0M193.7 395.2h0M193.9 396.2h0M194.3 397.5h0M194.6 399.5h0M194.8 397.5h0M195.1 398.9h0M195.6 400.4h0M195.8 401.5h0M196.0 402.9h0M196.5 403.9h0M196.7 403.7h0M196.9 403.9h0M197.3 401.4h0M197.6 400.6h0M197.8 399.5h0M198.2 398.2h0M198.5 397.1h0M198.9 392.9h0M199.2 393.5h0M199.5 391.9h0M199.7 395.0h0M200.1 392.7h0M200.2 391.6h0M200.5 392.7h0M200.8 394.2h0M201.2 399.1h0M201.6 398.1h0M201.9 399.4h0M202.2 401.3h0M202.3 399.3h0M202.8 399.2h0M203.0 403.5h0M203.4 403.3h0M203.6 403.2h0M204.0 400.0h0M204.3 397.7h0M204.5 395.7h0M204.8 397.1h0M205.1 398.9h0M205.3 395.6h0M205.9 392.5h0M206.1 392.9h0M206.5 393.7h0M206.8 391.1h0M206.8 392.9h0M207.3 391.0h0M207.6 388.2h0M207.9 389.1h0M208.2 388.8h0M210.6 325.1h0M210.9 323.7h0M211.1 325.5h0M211.3 318.8h0M211.8 319.1h0M211.9 319.8h0M212.4 319.6h0M212.7 321.8h0M213.0 321.1h0M213.1 317.8h0M213.4 320.2h0M213.7 323.1h0M214.0 325.9h0M214.4 327.4h0M214.6 325.3h0M215.0 325.9h0M215.4 323.6h0M215.7 324.9h0M216.0 328.6h0M216.2 326.6h0M216.7 324.4h0M216.8 321.9h0M217.3 318.0h0M217.5 318.0h0M217.8 317.2h0M218.2 318.0h0M218.3 319.4h0M218.7 317.7h0M219.0 317.5h0M219.3 318.6h0M219.4 321.4h0M219.9 324.2h0M220.1 324.5h0M220.4 324.0h0M220.9 324.7h0M221.0 325.3h0M221.3 324.4h0M221.6 324.0h0M222.1 329.1h0M222.2 326.1h0M222.5 323.3h0M222.9 321.2h0M223.1 317.1h0M223.4 317.5h0M223.7 318.7h0M224.0 318.4h0M224.3 317.1h0M224.6 316.8h0M224.9 315.5h0M225.2 316.3h0M225.6 316.7h0M240.0 144.2h0M240.5 145.5h0M240.9 148.7h0M241.5 151.5h0M241.7 145.7h0M242.3 148.1h0M242.4 148.3h0M242.7 151.3h0M243.2 149.1h0M243.7 142.9h0M244.4 138.0h0M244.9 141.5h0M245.2 139.4h0M245.3 143.9h0M245.7 140.5h0M246.1 144.5h0M246.4 148.6h0M247.1 159.7h0M247.3 163.7h0M247.4 166.7h0M248.1 163.2h0M248.4 162.7h0M248.8 160.1h0M249.2 157.9h0M249.2 153.4h0M249.6 152.8h0M250.1 149.2h0M250.2 139.1h0M250.4 138.0h0M250.8 140.9h0M251.3 139.9h0M251.6 142.4h0M251.7 143.6h0M252.1 138.6h0M252.4 140.0h0M252.6 144.5h0M253.0 149.0h0M253.2 154.8h0M253.9 160.5h0M254.4 159.3h0M254.9 163.3h0M255.2 167.1h0M255.6 166.6h0M256.4 151.2h0M256.5 147.6h0M257.0 145.5h0M257.3 147.4h0M257.4 148.2h0M258.0 151.8h0M258.1 144.0h0M258.7 143.6h0M259.9 169.7h0M260.4 168.2h0M260.7 170.5h0M260.8 173.1h0M261.3 174.2h0M261.6 170.9h0M261.7 170.8h0M262.2 171.5h0M262.5 171.2h0M262.8 168.9h0M262.9 166.7h0M263.2 165.5h0M263.8 167.6h0M264.0 172.1h0M264.3 171.3h0M264.4 171.8h0M265.0 176.5h0M265.0 179.1h0M265.5 182.0h0M265.7 183.1h0M266.1 182.4h0M266.5 182.8h0M266.7 182.0h0M266.8 175.1h0M267.4 172.6h0M267.6 169.2h0M267.7 172.4h0M268.1 171.2h0M268.5 168.4h0M268.9 168.8h0M268.9 176.3h0M269.5 185.5h0M269.6 187.3h0M269.9 187.7h0M270.4 187.3h0M270.5 189.3h0M270.8 188.2h0M271.3 188.1h0M271.5 184.9h0M271.8 177.0h0M272.2 177.0h0M272.4 177.8h0M272.6 177.9h0M273.0 174.9h0M273.3 174.9h0M273.7 180.9h0M274.0 187.0h0M274.1 190.6h0M274.6 186.5h0M274.7 189.0h0M275.2 189.2h0M275.3 191.0h0M275.8 185.3h0M276.0 179.4h0M276.2 181.8h0M276.6 179.1h0M276.9 175.2h0M277.3 172.2h0M277.6 170.8h0M277.9 171.6h0M278.3 174.4h0M278.4 176.3h0M278.8 178.1h0M279.2 184.1h0M279.4 184.6h0M279.6 180.5h0M279.8 179.6h0M280.3 175.5h0M280.5 176.3h0M280.9 177.7h0M281.3 168.9h0M281.3 166.8h0M281.7 166.9h0M282.2 171.0h0M282.4 171.1h0M282.6 170.5h0M283.0 170.7h0M283.3 174.2h0M283.6 176.2h0M283.8 174.1h0M284.2 174.5h0M284.5 174.4h0M284.7 172.3h0M285.1 171.1h0M285.3 164.6h0M285.8 162.1h0M286.1 162.7h0M286.4 165.6h0M286.5 162.6h0M287.0 159.3h0M287.2 162.9h0M287.6 163.4h0M287.9 166.2h0M287.7 156.1h0M288.4 150.2h0M289.6 141.1h0M290.1 141.2h0M290.7 143.9h0M290.8 141.2h0M291.1 143.1h0M291.6 141.3h0M292.2 140.9h0M292.4 145.3h0M293.1 149.6h0M295.0 161.6h0M295.5 159.1h0M295.8 155.1h0M299.5 149.6h0M300.5 150.4h0M301.2 159.8h0M301.4 157.1h0M302.0 151.1h0M302.8 147.2h0M303.1 145.3h0M303.3 141.6h0M303.5 133.7h0M304.1 129.2h0M304.4 128.4h0M305.0 131.8h0M305.0 134.6h0M305.7 135.1h0M306.1 134.9h0M306.5 147.0h0M307.3 153.7h0M307.7 151.7h0M308.7 156.2h0M312.6 183.8h0M312.9 186.5h0M313.1 190.2h0M313.3 195.1h0M313.7 199.4h0M314.1 200.6h0M314.4 201.9h0M314.5 209.5h0M314.8 216.1h0M315.3 221.1h0M315.4 228.1h0M315.7 232.8h0M316.3 234.1h0M316.4 225.2h0M316.9 214.3h0M317.0 214.4h0M317.4 216.1h0M317.6 207.8h0M318.0 202.4h0M318.3 197.6h0M318.5 196.0h0M318.9 202.7h0M319.2 204.5h0M319.6 218.1h0M319.7 220.3h0M320.1 221.7h0M320.3 231.2h0M320.7 231.8h0M321.1 236.2h0M321.3 245.3h0M321.5 247.5h0M321.9 248.0h0M322.3 245.9h0M322.4 247.8h0M322.9 248.6h0M323.1 251.1h0M323.4 256.2h0M323.6 260.7h0M323.9 259.5h0M324.2 264.0h0M324.6 273.0h0M324.8 278.6h0M325.2 284.4h0M325.4 292.6h0M325.7 291.7h0M326.2 293.0h0M326.3 288.0h0M326.6 287.2h0M327.0 290.6h0M327.2 291.4h0M327.4 284.9h0M327.9 283.4h0M328.2 273.5h0M328.5 270.5h0M328.6 269.2h0M328.9 267.2h0M329.2 266.3h0M329.8 267.9h0M329.9 266.3h0M330.2 268.4h0M330.5 270.6h0M330.8 263.0h0M331.3 268.7h0M331.5 267.1h0M331.7 276.2h0M332.1 275.5h0M332.3 277.7h0M332.7 280.8h0M333.1 279.0h0M333.2 280.4h0M333.5 281.9h0M334.0 281.2h0M334.1 280.2h0M334.6 280.2h0M334.6 274.3h0M334.9 275.0h0M335.5 273.0h0M335.7 277.3h0M336.1 285.7h0M336.3 283.5h0M336.7 288.0h0M336.9 288.8h0M337.3 293.6h0M337.5 299.0h0M337.7 303.9h0M338.1 304.0h0M338.3 299.6h0M338.7 299.2h0M339.0 296.5h0M339.3 297.2h0M339.5 299.5h0M340.1 297.9h0M340.2 299.8h0M340.5 300.1h0M340.9 301.6h0M341.2 306.7h0M341.5 318.7h0M341.8 324.1h0M341.9 331.2h0M342.3 324.8h0M342.6 326.4h0M343.0 336.2h0M343.3 343.8h0M343.5 352.5h0M343.9 353.1h0M344.3 353.5h0M344.3 345.4h0M344.8 348.2h0M345.2 349.4h0M345.5 353.5h0M345.8 347.4h0M346.0 338.9h0M346.3 324.7h0M346.6 323.8h0M346.8 325.0h0M347.1 323.3h0M347.5 322.7h0M347.8 313.6h0M348.2 314.4h0M348.3 311.4h0M348.7 311.8h0M349.0 319.1h0M349.4 324.5h0M349.7 329.9h0M350.0 335.2h0M350.2 333.5h0M350.4 336.4h0M350.7 339.1h0M351.2 342.6h0M351.3 347.7h0M351.8 341.1h0M352.0 333.3h0M352.3 328.6h0M352.6 323.6h0M352.8 324.5h0M353.2 329.8h0M353.4 327.8h0M353.8 325.8h0M354.1 322.6h0M354.4 322.8h0M354.7 325.5h0M355.0 332.2h0M355.3 340.0h0M355.7 344.5h0M356.0 345.8h0M356.2 341.1h0M356.5 349.6h0M356.9 355.8h0M357.0 355.5h0M357.5 356.8h0M357.7 353.8h0M358.1 353.3h0M358.3 348.4h0M358.6 343.8h0M359.1 339.6h0M359.4 342.1h0M359.5 341.6h0M359.8 337.9h0M360.3 330.6h0M360.4 323.1h0M360.9 322.5h0M361.0 324.5h0M361.5 321.9h0M362.3 318.4h0M363.0 317.1h0M363.3 311.8h0M364.2 307.6h0M364.4 306.6h0M365.7 298.6h0M365.8 302.0h0M366.4 302.3h0M367.0 301.8h0M367.7 301.2h0M368.2 306.4h0M368.8 306.1h0M369.7 309.8h0M369.9 307.4h0M370.7 302.6h0M371.0 300.0h0M371.5 298.6h0M371.8 301.2h0M372.5 301.0h0M373.3 301.0h0M373.8 307.0h0M374.0 311.3h0M375.0 310.0h0M375.3 309.3h0M375.8 313.3h0M376.1 310.3h0M377.3 306.5h0M378.2 298.5h0M378.6 295.5h0M379.1 297.8h0M379.5 298.3h0M380.2 296.8h0M380.5 301.1h0M380.6 301.7h0M381.0 305.4h0M381.6 307.6h0M383.1 302.3h0M383.4 304.6h0M384.6 295.8h0M385.0 294.2h0M385.4 292.4h0M386.2 294.7h0M386.4 297.6h0M386.9 297.2h0M387.3 304.4h0M388.1 307.6h0M388.7 310.1h0M390.0 305.5h0M390.3 308.9h0M390.7 312.3h0M391.0 320.6h0M391.2 328.8h0M391.4 332.5h0M391.8 331.5h0M392.2 330.2h0M392.4 331.2h0M392.8 333.5h0M392.9 335.8h0M393.4 336.9h0M393.8 337.8h0M394.1 334.6h0M394.4 325.7h0M394.5 324.4h0M394.9 322.9h0M395.2 323.3h0M395.3 322.6h0M395.8 319.9h0M396.0 316.2h0M396.3 309.3h0M396.7 315.3h0M396.9 317.1h0M397.1 320.5h0M397.4 320.1h0M397.8 319.8h0M398.0 321.7h0M398.5 325.4h0M398.7 326.6h0M399.1 327.5h0M399.4 331.2h0M399.7 325.7h0M399.9 326.7h0M400.2 328.6h0M400.5 325.4h0M400.9 326.1h0M401.2 322.0h0M401.5 317.9h0M401.9 312.6h0M402.0 314.1h0M402.4 314.3h0M402.8 313.9h0M403.1 317.2h0M403.2 318.2h0M403.7 319.3h0M404.0 316.7h0M404.3 318.1h0M404.4 321.3h0M405.0 326.3h0M405.0 332.7h0M405.3 333.2h0M405.7 330.8h0M406.1 328.1h0M406.2 329.8h0M406.7 332.3h0M406.9 331.7h0M407.4 333.5h0M407.5 329.5h0M407.9 324.5h0M408.0 325.6h0M408.3 324.5h0M408.7 325.3h0M409.1 326.5h0M409.3 327.0h0M409.7 325.5h0M410.0 324.1h0M410.4 326.9h0M410.7 328.1h0M410.9 331.2h0M411.1 333.7h0M411.6 333.4h0M411.7 336.1h0M412.0 336.5h0M412.4 338.5h0M412.6 341.6h0M413.1 343.9h0M413.4 345.2h0M413.7 346.3h0M414.0 345.7h0M414.2 343.6h0M414.5 343.3h0M414.8 343.7h0M414.9 343.9h0M415.5 343.5h0M415.7 339.4h0M416.1 337.1h0M416.4 335.5h0M416.6 339.1h0M416.8 339.2h0M417.3 339.0h0M417.4 335.9h0M417.8 337.0h0M418.2 337.8h0M418.3 343.3h0M418.8 344.6h0M418.9 350.0h0M419.2 345.0h0M419.8 345.9h0M420.0 344.3h0M420.2 341.0h0M420.5 342.8h0M420.8 342.1h0M421.0 340.5h0M421.3 340.2h0M421.7 337.3h0M422.0 331.8h0M422.4 332.1h0M422.6 333.8h0M422.8 332.1h0M423.3 337.6h0M423.6 336.8h0M423.7 338.5h0M424.3 337.4h0M424.4 338.7h0M424.7 345.6h0M425.1 349.3h0M425.4 347.4h0M425.6 345.7h0M426.0 343.5h0M426.3 343.5h0M426.5 345.0h0M427.0 347.5h0M427.2 340.9h0M427.5 336.5h0M427.7 332.7h0M428.1 329.1h0M428.4 333.6h0M428.8 336.6h0M429.1 335.0h0M429.3 337.5h0M429.5 336.6h0M430.0 337.3h0M430.1 338.0h0M430.5 346.9h0M430.8 349.7h0M431.0 356.0h0M431.3 355.5h0M431.8 353.3h0M431.9 354.2h0M432.3 356.4h0M432.8 359.0h0M433.0 358.8h0M433.2 351.7h0M433.4 349.3h0M433.7 346.2h0M434.1 347.2h0M434.4 348.5h0M434.9 346.2h0M435.2 345.9h0M435.3 345.1h0M435.5 344.6h0M436.1 347.7h0M436.1 352.5h0M436.7 357.8h0M437.0 355.5h0M437.3 357.3h0M437.4 357.5h0M437.8 359.6h0M438.1 359.8h0M438.4 362.5h0M438.7 361.9h0M439.0 356.7h0M439.2 356.3h0M439.5 353.1h0M439.8 351.4h0M440.2 350.6h0M440.4 350.3h0M440.7 348.1h0M441.0 349.2h0M441.4 346.0h0M441.6 346.0h0M441.9 349.1h0M442.4 350.0h0M442.7 354.4h0M442.8 354.2h0M443.3 358.5h0M443.6 358.0h0M443.9 360.7h0M444.2 362.2h0M444.4 361.5h0M444.6 362.6h0M445.2 361.7h0M445.2 356.4h0M445.5 354.1h0M445.8 352.9h0M446.2 350.3h0M446.6 352.6h0M446.8 349.4h0M447.2 349.4h0M447.5 347.9h0M447.8 345.9h0M448.0 349.1h0M448.2 353.6h0M448.8 352.4h0M448.8 351.9h0M449.1 352.2h0M449.6 355.0h0M449.9 358.9h0M450.1 362.4h0M450.5 360.4h0M450.7 359.5h0M450.9 360.2h0M451.4 359.1h0M451.6 361.2h0M452.0 359.1h0M452.3 358.1h0M452.7 358.0h0M452.9 354.5h0M453.3 353.1h0M453.3 355.1h0M453.7 351.2h0M454.2 351.7h0M454.4 349.8h0M454.6 347.7h0M455.0 344.3h0M455.3 343.6h0M455.6 345.1h0M455.8 347.5h0M456.1 350.6h0M456.5 355.4h0M456.8 353.6h0M457.2 355.3h0M457.3 354.2h0M457.8 356.9h0M458.1 361.3h0M458.4 361.2h0M458.7 358.5h0M458.8 358.1h0M459.3 356.7h0M459.5 355.3h0M459.9 355.1h0M460.1 354.1h0M460.5 351.9h0M460.6 350.3h0M460.9 347.0h0M461.4 343.5h0M461.8 346.3h0M462.0 348.3h0M462.1 349.6h0M462.6 350.2h0M462.9 349.6h0M463.3 352.5h0M463.6 355.4h0M463.6 360.0h0M464.0 361.2h0M464.2 363.7h0M464.5 361.4h0M464.8 361.1h0M465.2 359.5h0M465.6 357.4h0M465.9 359.0h0M466.0 359.1h0M466.5 353.9h0M466.8 348.9h0M467.1 348.4h0M467.5 349.1h0M467.8 345.1h0M468.0 352.6h0M468.2 352.3h0M468.6 353.3h0M468.9 350.7h0M469.1 349.4h0M489.0 411.0h0M489.5 410.6h0M489.8 413.0h0M490.1 411.9h0M490.6 416.8h0M490.9 417.3h0M491.0 416.4h0M491.5 415.6h0M491.6 416.7h0M492.2 416.3h0M492.3 419.0h0M492.7 421.1h0M493.0 419.6h0M493.3 416.4h0M494.0 412.0h0M494.2 413.9h0M494.6 411.5h0M494.6 412.7h0M495.1 408.8h0M495.2 407.3h0M495.8 404.9h0M495.8 409.3h0M496.1 410.0h0M496.5 409.5h0M497.0 410.8h0M497.4 410.9h0M497.9 412.6h0M498.0 417.3h0M498.3 417.8h0M498.8 421.7h0M499.1 420.5h0M499.2 416.5h0M499.7 416.0h0M499.9 416.5h0M500.3 415.3h0M500.9 413.2h0M501.2 409.9h0M501.4 408.2h0M501.9 409.2h0M502.2 409.4h0M502.6 409.2h0M502.9 409.1h0M503.5 411.4h0M503.8 416.3h0M504.2 419.9h0M504.4 421.0h0M504.8 422.4h0M505.1 420.7h0M505.2 418.5h0M505.6 418.2h0M506.1 418.1h0M506.5 414.8h0M506.9 410.7h0M507.2 412.9h0M508.0 411.9h0M508.3 410.1h0M508.6 407.7h0M509.3 408.8h0M509.7 411.0h0M509.9 410.9h0M510.2 412.9h0M510.5 412.0h0M510.9 414.0h0M511.2 416.6h0M511.5 419.9h0M511.6 421.1h0M512.0 421.9h0M512.4 418.8h0M512.5 419.0h0M513.0 425.3h0M513.3 421.7h0M513.5 420.8h0M513.8 418.3h0M514.2 414.3h0M514.2 409.2h0M514.6 407.8h0M515.3 413.1h0M515.6 409.7h0M515.8 412.0h0M516.3 411.7h0M516.6 411.5h0M516.9 413.0h0M517.1 416.9h0M517.4 420.5h0M518.3 421.4h0M524.0 309.3h0M524.5 312.2h0M524.7 315.2h0M524.9 312.1h0M525.3 313.3h0M525.5 315.6h0M525.8 315.3h0M526.2 316.9h0M526.4 322.0h0M526.7 321.0h0M527.1 321.3h0M527.4 316.1h0M527.7 315.8h0M528.0 315.0h0M528.4 313.2h0M528.5 310.3h0M528.9 304.3h0M529.1 297.4h0M529.4 296.0h0M529.6 295.2h0M530.1 296.9h0M530.4 293.0h0M530.7 289.8h0M531.0 291.2h0M531.2 293.1h0M531.7 293.7h0M531.9 297.7h0M532.0 300.5h0M532.4 300.9h0M532.8 296.7h0M533.0 295.0h0M533.3 294.6h0M533.6 295.9h0M534.0 295.3h0M534.2 292.3h0M534.6 288.3h0M534.8 283.6h0M535.2 280.0h0M535.5 279.5h0M535.7 279.2h0M536.1 280.4h0M536.4 279.8h0M536.6 279.2h0M537.0 282.1h0M537.3 284.0h0M537.5 284.7h0M537.9 288.6h0M538.1 289.2h0M538.6 291.3h0M538.9 290.8h0M539.2 290.7h0M539.3 287.5h0M539.7 289.9h0M540.0 289.4h0M540.4 288.7h0M540.6 287.4h0M541.0 279.8h0M539.9 247.0h0M540.4 257.8h0M540.7 259.3h0M541.0 248.4h0M541.3 236.7h0M541.4 234.8h0M541.9 230.8h0M542.0 225.4h0M542.4 227.5h0M542.9 234.7h0M542.9 240.3h0M543.4 243.2h0M543.7 256.3h0M543.9 260.0h0M544.3 258.8h0M544.4 252.8h0M544.9 243.5h0M545.1 246.5h0M545.4 242.7h0M545.8 237.4h0M546.1 227.8h0M546.2 223.9h0M546.8 225.0h0M546.9 233.1h0M547.4 232.8h0M547.6 240.8h0M547.8 253.6h0M548.2 255.5h0M548.6 256.0h0M548.9 250.2h0M549.2 239.7h0M549.3 247.3h0M549.8 234.3h0M549.9 227.6h0M550.4 225.8h0M550.7 228.0h0M551.0 235.4h0M551.3 230.8h0M551.6 245.5h0M551.8 255.8h0M552.2 258.2h0M552.4 257.1h0M552.6 249.7h0M553.0 256.4h0M553.3 257.0h0M553.5 238.2h0M553.9 239.4h0M554.3 229.8h0M554.5 227.8h0M554.9 224.7h0M555.2 223.0h0M555.4 233.1h0M555.7 236.9h0M556.0 244.2h0M556.4 250.0h0M556.6 251.9h0M556.9 258.9h0M557.1 255.9h0M557.4 250.0h0M557.8 246.4h0M558.3 246.9h0M558.6 235.5h0M558.9 233.5h0M559.2 232.0h0M559.4 230.9h0M559.6 232.2h0M559.9 234.0h0M560.1 244.2h0M560.4 251.0h0M561.0 255.0h0M561.1 252.7h0M561.4 258.6h0M561.9 258.6h0M561.9 254.2h0M562.2 249.7h0M562.8 248.7h0M563.0 242.6h0M563.2 234.1h0M563.6 235.5h0M564.0 240.2h0M564.2 232.3h0M564.6 235.7h0M564.7 247.0h0M565.2 250.3h0M565.5 246.3h0M565.7 251.4h0M566.0 257.9h0M566.4 262.7h0M566.6 254.2h0M566.8 253.7h0M567.2 249.6h0M567.4 248.9h0M567.9 241.8h0M568.0 276.6h0M568.4 273.4h0M568.7 280.0h0M568.9 285.4h0M569.2 280.2h0M569.5 277.3h0M569.7 273.9h0M570.1 260.5h0M570.5 266.1h0M570.9 265.8h0M571.2 262.2h0M571.4 261.0h0M571.6 265.0h0M572.0 271.1h0M572.1 285.2h0M572.7 279.7h0M572.9 281.7h0M573.3 288.9h0M573.3 290.1h0M573.6 289.9h0M574.0 276.3h0M574.3 266.0h0M574.7 264.1h0M575.0 264.1h0M575.1 266.7h0M575.5 251.0h0M575.8 251.5h0M576.3 261.7h0M576.3 271.7h0M576.6 275.5h0M577.2 278.0h0M577.2 282.2h0M577.6 288.2h0M577.9 290.3h0M578.3 294.5h0M578.6 283.7h0M578.9 278.7h0M579.2 267.8h0M579.6 264.2h0M579.9 266.0h0M580.1 256.0h0M580.3 256.6h0M580.6 256.8h0M581.0 266.9h0M581.3 270.4h0M581.5 274.0h0M582.0 271.3h0M582.3 281.6h0M582.4 294.8h0M582.9 300.5h0M583.1 297.1h0M583.3 295.8h0M583.7 302.5h0M583.9 293.6h0M584.2 294.5h0M584.7 297.5h0M584.9 303.2h0M585.1 309.8h0M585.5 311.6h0M585.9 312.1h0M586.0 309.3h0M586.3 307.9h0M586.8 311.3h0M587.0 311.6h0M587.4 306.4h0M587.6 305.8h0M587.9 302.6h0M588.2 302.4h0M588.5 303.1h0M588.8 303.4h0M589.2 300.9h0M589.4 300.1h0M589.8 299.1h0M590.0 297.5h0M590.4 299.1h0M590.5 302.4h0M591.0 305.7h0M591.2 307.2h0M591.6 307.1h0M592.0 309.6h0M592.1 309.3h0M592.5 314.1h0M592.8 314.4h0M593.1 320.8h0M593.4 320.1h0M593.8 318.6h0M594.1 320.2h0M594.1 316.7h0M594.7 312.3h0M594.8 304.5h0M595.2 305.3h0M595.4 305.9h0M595.7 299.6h0M596.1 302.5h0M596.3 294.2h0M596.6 298.9h0M597.1 294.3h0M597.3 297.3h0M597.7 301.2h0M597.8 302.8h0M598.3 303.2h0M598.6 304.8h0M598.9 304.7h0M599.2 310.7h0M599.4 314.0h0M599.6 316.2h0M600.1 313.1h0M600.4 314.7h0M600.7 307.0h0M600.8 306.4h0M601.4 305.9h0M601.5 308.2h0M602.0 303.7h0M602.3 301.5h0M602.5 301.0h0M602.8 298.3h0M603.0 296.2h0M603.3 300.8h0M603.6 302.0h0M603.9 307.2h0M604.4 310.9h0M604.5 308.9h0M604.9 308.0h0M605.2 311.8h0M605.5 313.9h0M605.9 316.9h0M606.1 315.0h0M606.3 313.7h0M606.5 311.2h0M607.1 307.7h0M607.2 306.2h0M607.6 307.6h0M608.0 304.3h0M608.2 303.5h0M608.4 298.7h0M608.8 299.0h0M609.2 298.8h0M609.3 300.7h0M609.6 309.0h0M610.1 312.3h0M610.3 313.6h0M610.5 314.6h0M610.8 317.9h0M611.4 321.2h0M611.7 329.2h0M611.9 334.5h0M612.2 340.0h0M612.3 343.6h0M612.7 342.4h0M613.0 336.8h0M613.3 336.7h0M613.6 336.0h0M613.9 334.3h0M614.2 335.0h0M614.6 338.3h0M615.0 333.7h0M615.2 327.4h0M615.4 328.2h0M615.6 329.9h0M616.1 341.3h0M616.5 341.1h0M616.6 347.3h0M616.9 344.9h0M617.4 348.1h0M617.5 355.5h0M617.9 359.1h0M618.1 358.9h0M618.4 350.2h0M618.7 347.5h0M619.0 339.9h0M619.4 338.2h0M619.7 336.8h0M619.9 338.9h0M620.3 337.0h0M620.6 329.1h0M621.0 326.5h0M621.2 325.6h0M621.6 328.2h0M621.9 332.7h0M622.0 333.9h0M622.5 336.0h0M622.8 334.8h0M623.0 340.5h0M623.2 350.1h0M623.5 353.6h0M623.9 355.7h0M624.3 354.0h0M624.6 347.8h0M624.8 351.7h0M625.0 355.2h0M625.5 352.5h0M625.6 345.1h0M625.9 344.3h0M626.5 341.7h0M626.7 341.9h0M627.1 345.2h0M627.2 345.0h0M627.6 351.4h0M627.8 350.4h0M628.2 350.9h0M628.3 352.1h0M628.6 354.2h0M629.1 351.8h0M629.5 355.9h0M629.5 358.3h0M630.0 358.6h0M630.4 358.9h0M630.5 357.1h0M630.9 355.4h0M631.2 355.5h0M631.4 355.9h0M631.8 357.6h0M632.1 360.1h0M632.5 353.3h0M632.6 352.5h0M633.1 351.1h0M633.2 351.1h0M633.7 354.6h0M633.9 358.8h0M634.3 362.5h0M634.5 365.2h0M634.8 365.7h0M635.2 363.3h0M635.4 370.6h0M635.6 377.3h0M636.0 383.4h0M636.4 384.8h0M636.5 379.4h0M636.9 379.7h0M637.2 382.7h0M637.6 383.9h0M637.8 379.0h0M638.0 370.6h0M638.4 369.2h0M638.7 367.3h0M638.9 368.5h0M639.2 368.5h0M639.6 365.7h0M639.9 363.6h0M640.2 359.0h0M640.6 361.1h0M640.8 366.2h0M641.3 367.7h0M641.5 368.9h0M641.6 370.2h0M641.9 370.9h0M642.4 373.3h0M642.7 372.9h0M642.9 376.9h0M643.1 380.3h0M643.5 379.8h0M643.8 379.0h0M644.3 373.0h0M644.4 372.8h0M644.9 371.4h0M645.1 376.2h0M645.3 371.5h0M645.7 371.0h0M645.8 368.0h0M646.3 366.2h0M646.5 365.0h0M646.9 361.8h0M647.2 359.2h0M647.5 361.7h0M647.7 358.6h0M648.2 363.2h0M648.5 361.9h0M648.6 365.3h0M649.0 366.8h0M649.3 366.8h0M649.7 367.7h0M650.0 370.7h0M650.2 375.0h0M650.4 375.2h0M650.8 374.0h0M651.1 372.1h0M651.5 370.6h0M651.8 370.4h0M652.1 372.0h0M652.3 369.8h0M652.7 369.7h0M653.0 369.0h0M653.1 365.4h0M653.7 363.3h0M654.0 362.5h0M654.0 360.6h0M654.6 365.9h0M654.6 363.7h0M655.0 365.2h0M655.5 365.0h0M655.5 363.8h0M655.8 368.2h0M656.3 370.3h0M656.5 378.2h0M656.8 383.2h0M657.2 382.3h0M657.3 380.1h0M657.7 381.9h0M657.9 387.9h0M658.4 390.0h0M658.6 391.6h0M658.9 387.6h0M659.4 383.5h0M659.4 381.4h0M659.9 380.8h0M660.2 377.8h0M660.6 377.4h0M660.8 377.3h0M661.1 372.7h0M661.3 371.4h0M661.7 370.7h0M661.9 373.9h0M662.4 375.4h0M662.5 381.6h0M663.0 377.0h0M663.2 377.1h0M663.4 378.5h0M663.9 384.1h0M664.2 387.7h0M664.5 388.8h0M664.6 389.6h0M665.2 385.9h0M665.3 385.4h0M665.5 383.3h0M665.9 383.5h0M666.2 383.6h0M666.4 385.9h0M666.8 383.2h0M667.3 377.8h0M667.4 376.7h0M667.7 375.2h0M668.1 375.1h0M668.3 375.6h0M668.8 377.2h0M668.8 375.6h0M669.1 375.5h0M669.5 373.9h0M669.9 375.8h0M670.2 379.6h0M670.4 383.7h0M670.8 388.6h0M671.1 391.8h0M671.5 390.1h0M671.6 393.3h0M672.1 397.8h0M672.3 400.4h0M672.5 400.7h0M673.0 397.7h0M673.3 396.8h0M673.6 393.2h0M673.7 396.6h0M674.0 395.2h0M674.5 398.6h0M674.8 398.5h0M674.9 393.3h0M675.2 394.2h0M675.8 393.3h0M675.9 396.6h0M676.1 405.1h0M676.6 416.7h0M676.8 422.8h0M677.3 423.9h0M677.5 425.8h0M677.7 432.9h0M678.1 439.1h0M678.3 441.2h0M678.7 443.2h0M678.9 440.4h0M679.3 432.8h0M679.5 432.4h0M679.7 435.9h0M680.0 433.8h0M680.5 431.7h0M680.7 427.1h0M681.1 419.9h0M681.3 421.3h0M681.6 427.9h0M682.0 431.3h0M682.2 430.7h0M682.6 433.6h0M682.7 432.7h0M683.2 437.5h0M683.6 436.4h0M683.7 437.5h0M683.9 440.9h0M684.5 440.2h0M684.6 442.0h0M684.8 442.1h0M685.4 437.0h0M685.6 434.5h0M685.9 430.1h0M686.1 425.2h0M686.6 422.9h0M686.8 419.1h0M687.0 415.4h0M687.5 408.6h0M687.8 405.3h0M688.0 403.9h0M688.4 405.1h0M688.5 408.8h0M688.9 404.9h0M689.2 406.8h0M689.4 409.3h0M689.9 416.6h0M690.0 423.4h0M690.3 424.3h0M690.8 428.8h0M691.0 426.6h0M691.3 424.6h0M691.6 428.4h0M692.0 426.9h0M692.4 433.0h0M692.6 434.9h0M692.8 427.3h0M693.2 424.0h0M693.5 417.7h0M693.8 418.0h0M694.0 418.8h0M694.3 420.7h0M694.8 418.9h0M695.0 414.5h0M695.2 415.3h0M695.4 417.1h0M696.0 423.3h0M696.2 426.0h0M696.5 427.2h0M696.9 430.9h0M697.1 427.7h0M697.4 430.8h0M697.7 436.7h0M697.9 439.1h0M698.3 435.1h0M698.6 434.2h0M698.9 432.3h0M699.2 427.4h0M699.6 426.0h0M699.7 423.0h0M700.2 425.4h0M700.5 424.8h0M700.8 426.6h0M701.0 424.3h0M701.3 422.2h0M701.5 422.8h0M701.8 421.6h0M702.1 423.2h0M702.6 423.4h0M702.8 424.2h0M703.2 423.9h0M703.5 424.5h0M703.7 421.3h0M704.2 424.9h0M704.2 428.8h0M704.8 431.7h0M704.9 432.7h0M705.3 433.5h0M705.4 434.4h0M705.7 435.3h0M706.1 436.8h0M706.4 436.1h0M706.6 435.2h0M707.1 433.7h0M707.4 433.6h0M707.7 429.2h0M708.0 429.3h0M708.4 430.4h0M708.7 428.7h0M708.8 433.9h0M709.3 431.0h0M709.5 429.7h0M709.9 428.7h0M710.1 434.6h0M710.3 438.2h0M710.8 443.9h0M711.0 441.7h0M711.3 439.9h0M711.6 439.8h0M712.0 440.1h0M712.3 442.7h0M712.5 443.3h0M712.7 442.0h0M713.1 440.3h0M713.3 439.1h0M713.8 436.9h0M713.9 437.8h0M714.3 437.6h0M714.7 436.3h0M714.9 434.7h0M715.2 432.7h0M715.6 431.9h0M715.9 430.8h0M716.1 434.9h0M716.4 438.0h0M716.8 437.8h0M716.9 437.4h0M717.2 436.2h0M717.5 435.1h0M717.8 438.1h0M718.3 441.3h0M718.4 441.3h0M719.0 441.4h0M719.1 437.2h0M719.4 436.5h0M719.8 434.2h0M720.2 433.2h0M720.4 433.4h0M720.8 432.1h0M721.1 428.3h0M721.2 427.7h0M721.6 427.3h0M721.8 426.6h0M722.2 426.9h0M722.5 430.0h0M722.8 428.8h0M723.1 428.4h0M723.4 430.5h0M723.6 430.4h0M724.1 432.5h0M724.2 434.8h0M724.6 435.9h0M724.8 435.3h0M725.1 436.1h0M725.4 434.3h0M725.8 433.0h0M726.0 432.5h0M726.4 431.6h0M726.8 431.8h0M727.1 431.3h0M727.4 427.0h0M727.7 426.1h0M728.1 424.6h0M728.3 423.1h0M728.6 424.6h0M728.9 426.0h0M729.1 423.1h0M729.4 422.5h0M729.8 422.9h0M729.9 424.6h0M730.5 429.0h0M730.6 429.1h0M730.8 429.6h0M731.2 429.7h0M731.5 429.3h0M731.7 426.4h0M732.3 427.3h0M732.4 426.5h0M732.6 424.9h0M733.0 423.9h0M733.2 423.5h0M733.6 423.4h0M733.9 420.7h0M734.2 422.2h0M754.0 410.0h0M754.4 408.6h0M754.7 410.4h0M755.0 415.0h0M755.3 415.5h0M755.4 418.2h0M755.8 416.8h0M756.2 414.4h0M756.3 417.8h0M756.7 416.1h0M757.0 415.7h0M757.3 412.7h0M757.8 411.0h0M757.9 410.3h0M758.3 408.5h0M758.6 409.8h0M758.7 408.4h0M759.3 404.0h0M759.3 403.8h0M759.6 405.8h0M760.0 407.9h0M760.2 410.6h0M760.7 412.2h0M760.9 412.4h0M761.2 411.4h0M761.4 412.7h0M761.8 411.9h0M762.1 413.1h0M762.4 415.3h0M762.8 415.5h0M763.0 413.1h0M763.4 411.9h0M763.8 409.8h0M763.8 412.3h0M764.2 414.4h0M764.7 413.5h0M764.9 409.0h0M765.3 409.6h0M765.6 406.0h0M765.7 406.8h0M766.0 407.9h0M766.3 407.9h0M766.6 407.2h0M766.9 403.6h0M767.2 405.0h0M767.7 408.3h0M767.8 407.2h0M768.2 407.8h0M768.5 412.0h0M768.8 411.2h0M769.0 409.4h0M769.5 409.6h0M769.6 409.3h0M770.2 411.7h0M770.5 412.9h0M770.5 411.4h0M770.9 410.7h0M771.1 403.8h0M771.7 400.1h0M772.0 399.0h0M772.2 397.6h0M772.6 393.9h0M772.8 393.5h0M773.2 387.7h0M773.3 388.4h0M773.6 387.9h0M774.0 389.5h0M774.2 396.4h0M774.7 396.6h0M775.0 401.3h0M775.1 398.4h0M775.5 400.8h0M775.7 398.7h0M776.2 401.8h0M776.4 403.6h0M776.6 401.6h0M777.1 398.8h0M777.2 394.7h0M777.5 393.4h0M777.8 393.3h0M778.1 392.5h0M778.4 392.5h0M778.7 392.0h0M779.1 388.3h0M779.5 390.7h0M779.7 388.2h0M780.1 388.6h0M780.3 392.5h0M780.5 392.1h0M780.8 398.5h0M781.1 397.4h0M781.5 398.0h0M781.8 402.5h0M782.0 403.3h0M782.4 407.8h0M782.8 411.5h0M782.9 413.7h0M783.3 411.1h0M783.6 412.6h0M784.0 412.8h0M784.2 412.2h0M784.5 412.3h0M785.0 414.9h0M785.2 410.8h0M785.3 409.9h0M785.6 407.8h0M786.0 407.1h0M786.3 406.8h0M786.6 407.2h0M787.0 408.5h0M787.1 410.7h0M787.7 409.3h0M787.9 408.3h0M788.3 410.6h0M788.6 411.4h0M788.7 412.6h0M792.1 413.0h0M792.4 413.1h0M792.7 414.8h0M793.0 413.7h0M793.2 413.4h0M793.5 413.3h0M793.9 415.4h0M794.2 411.0h0M794.4 413.1h0M794.6 411.4h0M795.1 410.4h0M795.2 410.3h0M795.5 414.9h0M795.8 414.6h0M796.3 416.5h0M796.5 416.1h0M796.9 416.3h0M797.2 421.3h0M797.4 424.6h0M797.8 426.8h0M798.0 424.9h0M798.2 425.3h0M798.7 422.7h0M799.0 423.6h0M799.1 423.1h0M799.4 426.2h0M799.8 424.5h0M800.1 420.7h0M800.3 416.5h0M800.9 420.4h0M801.0 419.5h0M801.5 419.4h0M801.7 419.0h0M802.1 414.5h0M802.2 413.9h0M802.6 414.4h0M802.8 416.6h0M803.3 420.9h0M803.6 422.7h0M803.8 423.3h0M804.2 422.6h0M804.3 423.1h0M804.7 423.8h0M804.9 422.1h0M805.3 427.6h0M805.5 427.0h0M805.8 426.1h0M806.1 424.7h0M806.5 423.4h0M806.7 422.5h0M807.0 422.3h0M807.3 419.2h0M807.8 418.7h0M808.0 415.4h0M808.2 413.9h0M808.5 413.7h0M809.0 414.6h0M809.2 417.6h0M809.7 419.1h0M809.7 420.3h0M810.2 419.2h0M810.4 419.1h0M810.7 418.7h0M811.2 422.5h0M811.4 422.8h0M811.7 421.3h0M812.0 423.7h0M812.2 421.3h0M812.6 417.7h0M812.8 417.7h0M813.0 418.5h0M813.5 416.2h0M813.7 416.2h0M814.0 415.0h0M814.4 412.8h0M814.7 411.6h0M814.8 413.2h0M815.4 414.6h0M815.6 417.6h0M815.8 420.8h0M816.0 417.8h0M816.5 417.2h0M816.9 420.5h0M817.1 421.0h0M817.5 425.3h0M817.8 430.0h0M817.9 429.1h0M818.2 429.5h0M818.5 428.1h0M818.9 428.0h0M819.3 425.8h0M819.4 426.8h0M819.7 431.7h0M820.0 428.4h0M820.4 430.9h0M820.7 423.0h0M820.9 418.7h0M821.4 418.8h0M821.7 422.7h0M821.8 422.2h0M822.3 424.2h0M822.7 424.0h0M822.8 421.2h0M823.0 423.3h0M823.5 430.8h0M823.7 434.2h0M824.2 439.4h0M824.5 442.4h0M824.6 440.4h0M825.0 442.1h0M825.2 443.3h0M825.6 443.4h0M826.0 442.3h0M826.1 438.0h0M826.6 434.1h0M826.6 431.1h0M827.1 427.1h0M827.3 426.7h0M827.8 426.2h0M828.0 423.0h0M828.3 421.2h0M828.5 422.2h0M828.9 428.5h0M829.2 434.2h0M829.4 435.6h0M829.9 436.2h0M830.1 431.3h0M830.4 433.5h0M830.7 433.4h0M830.9 437.9h0M831.3 436.6h0M831.5 436.7h0M832.0 433.0h0M832.3 431.7h0M832.5 425.7h0M832.9 426.1h0M833.0 427.8h0M833.6 426.3h0M833.6 425.4h0M834.1 422.6h0M834.5 421.2h0M834.6 423.1h0M835.1 423.8h0M835.1 425.9h0M835.6 429.6h0M835.8 428.9h0M836.0 428.2h0M836.4 432.7h0M836.7 433.5h0M837.1 438.3h0M837.4 437.8h0M837.6 437.7h0M837.8 434.7h0M838.3 433.3h0M838.6 433.7h0M838.7 431.5h0M839.2 432.2h0M839.6 429.4h0M839.6 424.7h0M840.0 424.1h0M840.5 425.2h0M840.6 424.7h0M841.0 428.0h0M841.2 426.0h0M841.7 424.4h0M841.9 423.3h0M842.0 421.0h0M842.4 425.7h0M842.8 428.9h0M843.2 431.6h0M843.4 432.9h0M843.7 429.7h0M843.9 431.0h0M844.2 431.4h0M844.6 432.3h0M844.9 431.7h0M845.3 431.1h0M845.5 424.3h0M845.8 420.8h0M846.0 417.0h0M846.3 417.7h0M846.7 417.7h0M847.2 414.2h0M847.4 409.6h0M847.5 407.4h0M848.0 409.6h0M848.3 412.6h0M848.5 412.9h0M848.9 411.8h0M849.1 411.3h0M849.5 411.2h0M849.7 413.9h0M850.1 418.7h0M850.2 420.2h0M850.7 420.8h0M850.9 421.2h0M851.4 417.1h0M851.7 417.0h0M851.8 419.7h0M852.1 418.2h0M852.4 417.8h0M852.9 416.3h0M853.2 413.4h0M853.5 407.2h0M853.8 403.4h0M854.0 405.1h0M854.3 404.3h0M854.6 403.3h0M854.8 397.8h0M855.1 398.9h0M855.6 402.0h0M855.7 402.0h0M856.2 407.8h0M856.3 407.2h0M856.8 409.3h0M857.0 406.0h0M857.2 409.2h0M857.5 409.7h0M858.0 411.4h0M858.1 411.7h0M858.4 410.9h0M858.7 405.9h0M859.3 404.4h0M859.4 403.3h0M859.8 403.8h0M860.1 404.7h0M860.2 398.9h0M860.6 401.3h0M860.9 399.8h0M861.2 400.6h0M861.5 405.6h0M862.0 407.5h0M862.1 409.0h0M862.4 413.1h0M862.8 414.5h0M863.0 416.8h0M863.4 422.4h0M863.5 426.6h0M864.1 427.0h0M864.3 427.3h0M864.5 425.2h0M864.8 420.2h0M865.1 424.2h0M865.5 421.4h0M865.7 421.3h0M866.0 415.5h0M866.4 414.0h0M866.6 414.4h0M867.0 416.6h0M867.4 419.4h0M867.7 417.3h0M867.9 421.3h0M868.2 422.4h0M868.6 420.6h0M868.7 423.9h0M869.0 421.6h0M869.5 426.9h0M869.8 430.0h0M870.1 428.4h0M870.4 427.7h0M870.7 424.3h0M871.0 425.0h0M871.1 426.1h0M871.7 426.2h0M871.7 422.2h0M872.0 422.6h0M872.3 417.3h0M872.8 415.4h0M872.9 418.6h0M873.4 417.2h0M873.6 417.3h0M873.9 414.2h0M874.2 416.4h0M874.6 414.6h0M874.8 412.8h0M875.1 417.0h0M875.3 418.4h0M875.7 426.3h0M876.2 425.9h0M876.3 423.0h0M876.6 421.3h0M877.0 419.2h0M877.3 422.8h0M877.5 423.9h0M878.0 423.8h0M878.2 420.3h0M878.6 414.3h0M878.9 411.2h0M879.1 408.6h0M879.4 407.0h0M879.6 402.5h0M880.0 400.5h0M880.2 396.0h0M880.6 394.8h0M880.9 392.6h0M881.1 393.4h0M881.4 391.8h0M881.9 394.8h0M882.1 395.7h0M882.4 397.3h0M882.8 398.8h0M882.9 398.4h0M883.2 398.5h0M883.5 397.0h0M883.9 397.7h0M884.2 397.1h0M884.5 393.5h0M884.7 391.7h0M885.1 389.3h0M885.5 387.0h0M885.7 388.5h0M886.0 389.3h0M886.4 387.5h0M886.6 386.9h0M886.8 385.6h0M887.2 387.8h0M887.6 387.9h0M887.8 389.6h0M888.2 392.2h0M888.3 392.5h0M888.6 390.6h0M889.0 393.0h0M889.3 393.2h0M889.6 393.1h0M890.1 393.5h0M890.3 393.1h0M890.5 391.9h0M891.0 385.8h0M891.1 384.0h0M891.5 384.3h0M891.8 384.4h0M892.1 381.5h0M892.4 380.4h0M892.8 378.3h0M892.9 377.9h0M893.3 380.3h0M893.6 384.4h0M893.8 387.1h0M894.3 387.8h0M894.4 385.3h0M894.8 387.4h0M895.2 388.8h0M895.5 390.1h0M895.8 389.7h0M895.9 387.6h0M896.3 386.3h0M896.5 385.0h0M897.0 383.1h0M897.1 383.3h0M897.5 383.2h0M897.8 383.4h0M898.1 379.7h0M898.3 379.8h0M898.8 381.0h0M899.1 382.8h0M899.3 385.9h0M899.7 385.9h0M899.9 387.2h0M900.1 385.4h0M900.7 387.1h0M900.8 386.2h0M901.2 387.7h0M901.4 389.6h0M901.7 384.3h0M916.1 411.8h0M916.2 410.3h0M916.6 407.7h0M916.9 404.8h0M917.1 404.4h0M917.5 403.3h0M917.8 400.6h0M918.2 401.3h0M918.4 397.6h0M918.6 397.5h0M919.0 396.6h0M919.3 398.2h0M919.6 397.3h0M919.9 397.6h0M920.1 397.1h0M920.6 395.9h0M920.8 395.2h0M921.1 398.9h0M921.5 399.3h0M921.8 400.2h0M922.0 399.5h0M922.5 397.9h0M922.7 397.8h0M923.1 398.7h0M923.2 401.2h0M923.5 398.4h0M924.0 396.9h0M924.1 397.0h0M924.4 393.0h0M924.7 390.7h0M925.0 390.7h0M925.3 391.5h0M925.7 390.8h0M926.0 388.1h0M926.2 387.3h0M926.5 387.8h0M926.8 388.1h0M927.0 391.0h0M927.5 389.2h0M927.9 390.1h0M928.1 389.7h0M928.4 388.7h0M928.7 389.6h0M928.9 390.1h0M929.3 393.5h0M929.7 390.7h0M929.8 391.0h0M902.0 379.2h0M902.6 374.2h0M903.2 373.8h0M903.5 372.0h0M903.8 368.5h0M904.1 363.7h0M904.4 361.8h0M904.7 363.1h0M905.3 356.1h0M905.6 353.3h0M905.9 351.9h0M906.2 351.4h0M906.8 354.7h0M907.1 352.7h0M907.7 349.2h0M908.0 349.7h0M908.3 349.2h0M908.7 353.1h0M909.0 351.0h0M910.2 353.6h0M910.8 358.1h0" stroke="#000" stroke-width="5.5" stroke-linecap="round" fill="none"/>
<path d="M120.9 362.5 L123.2 366.9 L125.8 358.8 L128.2 348.8 L130.8 345.0 L133.2 348.8 L135.8 354.4 L138.2 351.3 L140.8 349.4 L143.0 355.0 L144.8 357.5 L146.4 350.0 L148.0 340.0 L149.1 336.5 L150.5 341.3 L152.0 348.8 L153.9 358.8 L155.8 365.0 L158.2 363.8 L160.1 366.9 L162.0 372.5 L164.5 377.5 L167.6 381.3 L170.1 381.9 L173.2 378.8 L175.8 380.0 L177.6 377.5 L179.5 372.5 L181.0 370.6 L182.6 373.8 L184.5 380.0 L186.4 381.9 L188.2 378.0 L190.1 378.8 L192.0 383.8 L193.9 386.3 L195.8 382.5 L197.6 379.4 L199.5 381.3 L200.8 382.5 L202.0 377.5 L203.2 367.5 L204.5 356.3 L205.8 345.0 L207.0 333.0 L208.9 323.8 L210.8 315.0 L213.2 302.5 L215.8 290.0 L217.6 277.5 L219.5 265.0 L222.0 253.0 L224.0 245.0 L225.5 238.0 L227.0 226.0 L230.0 212.0 L231.6 205.8 L233.2 208.0 L235.0 199.0 L238.0 190.0 L242.0 185.0 L246.0 176.0 L249.0 164.0 L253.0 148.0 L257.0 134.0 L259.6 128.0 L261.0 134.0 L264.0 144.0 L267.0 145.0 L270.0 151.0 L273.0 160.0 L276.0 158.0 L279.0 161.0 L282.0 167.0 L285.0 158.0 L287.4 154.4 L290.0 159.0 L293.0 169.0 L295.6 174.0 L299.0 178.0 L302.0 188.0 L304.0 188.0 L306.0 180.0 L308.0 176.0 L310.0 188.0 L312.0 204.0 L315.0 216.0 L317.0 222.0 L320.0 233.0 L323.0 244.0 L327.0 254.0 L331.0 260.0 L335.0 267.0 L338.0 266.0 L340.0 272.0 L343.0 286.0 L346.0 290.0 L349.0 300.0 L352.0 310.0 L354.0 313.0 L356.0 313.0 L358.0 320.0 L360.0 324.0 L362.0 318.0 L365.0 308.0 L367.6 303.0 L370.0 306.0 L373.0 311.0 L376.0 307.0 L379.0 310.0 L381.0 315.0 L383.0 308.0 L385.0 298.0 L386.4 293.6 L388.0 300.0 L390.0 314.0 L393.0 323.0 L396.0 322.0 L399.0 330.0 L402.0 336.0 L405.0 339.5 L407.0 340.0 L411.0 338.0 L414.0 340.0 L417.0 334.0 L419.0 338.0 L422.0 350.0 L425.0 351.0 L428.0 358.0 L431.0 365.0 L434.0 362.0 L437.0 368.0 L439.4 372.0 L442.0 364.0 L445.0 356.0 L448.0 360.0 L451.0 368.0 L454.0 366.0 L457.0 370.0 L460.0 376.0 L462.4 370.0 L465.0 358.0 L467.0 368.0 L469.0 384.0 L471.0 392.0 L474.0 393.5 L477.0 402.0 L480.0 410.0 L483.0 416.0 L486.0 419.4 L489.0 417.5 L492.0 408.0 L494.5 395.0 L496.5 388.0 L498.0 389.0 L500.0 391.0 L502.0 386.0 L505.0 379.0 L508.0 380.0 L510.0 377.0 L512.0 370.0 L514.0 364.0 L517.0 360.5 L519.0 352.0 L521.0 337.0 L523.0 323.0 L526.0 312.0 L529.0 308.0 L532.0 298.0 L535.0 289.0 L538.0 286.0 L540.0 278.0 L542.0 262.0 L544.0 254.0 L545.4 253.0 L547.0 262.0 L549.0 272.0 L551.0 269.0 L554.0 265.0 L557.0 267.0 L560.0 266.0 L563.0 263.0 L566.0 260.0 L569.0 262.0 L571.0 266.0 L574.0 264.0 L576.0 268.0 L578.0 277.0 L580.0 283.0 L582.0 286.0 L584.0 289.5 L586.0 298.0 L589.0 306.0 L592.0 306.0 L595.0 312.0 L597.0 318.0 L599.0 313.0 L601.0 305.0 L603.0 302.0 L605.0 305.0 L608.0 312.0 L611.0 317.0 L614.0 316.0 L616.0 322.0 L618.0 326.0 L620.0 316.0 L622.0 308.0 L623.6 309.0 L625.0 320.0 L627.0 334.0 L629.0 341.0 L632.0 342.5 L635.0 351.0 L638.0 359.0 L641.0 366.0 L644.0 368.0 L647.0 370.0 L650.0 372.5 L653.0 370.0 L655.0 372.5 L657.0 382.0 L660.0 391.0 L663.0 393.0 L666.0 404.0 L669.0 410.0 L671.6 409.0 L674.0 416.0 L676.4 420.0 L679.0 410.0 L681.0 404.0 L683.0 403.0 L685.0 407.0 L687.0 414.0 L689.0 416.0 L691.6 414.0 L694.0 417.0 L696.0 420.0 L698.4 410.0 L700.4 398.0 L702.4 394.0 L704.0 400.0 L706.0 414.0 L708.0 420.0 L711.0 416.0 L714.0 420.0 L717.0 425.0 L720.0 427.0 L723.0 425.0 L726.0 421.0 L729.0 422.0 L731.0 417.0 L733.0 414.0 L735.0 419.0 L737.0 426.0 L740.0 425.0 L742.0 423.0 L744.0 429.0 L746.4 434.0 L749.0 431.0 L751.0 428.0 L753.6 433.0 L756.0 426.0 L758.0 414.0 L760.0 408.0 L762.0 407.0 L764.4 409.0 L767.0 411.0 L769.0 407.0 L771.6 405.0 L774.0 407.0 L776.4 404.0 L778.4 392.0 L780.4 384.0 L782.4 387.0 L784.4 398.0 L786.4 408.0 L789.0 407.0 L790.0 406.0 L793.0 411.0 L796.0 415.0 L799.0 417.0 L802.0 414.0 L805.0 412.0 L808.0 411.0 L810.0 406.0 L812.0 404.0 L814.0 408.0 L817.0 414.0 L820.0 413.0 L823.0 420.0 L825.6 425.0 L828.0 420.0 L830.0 418.0 L832.0 423.0 L834.0 418.0 L836.4 408.0 L839.0 399.0 L841.6 397.0 L844.0 400.0 L846.6 399.0 L849.0 395.0 L851.0 396.0 L853.6 398.0 L855.6 390.0 L857.6 380.0 L859.6 374.0 L861.6 380.0 L863.6 394.0 L865.6 399.0 L868.0 396.0 L870.4 399.0 L873.0 404.0 L875.6 407.0 L878.0 408.0 L881.0 405.0 L884.0 401.0 L887.0 400.0 L889.0 394.0 L891.0 393.0 L893.0 399.0 L895.0 404.0 L897.0 407.0 L899.0 404.0 L901.0 408.0 L903.0 413.0 L905.0 414.0 L907.6 410.0 L910.0 412.0 L912.4 414.0 L914.4 408.0 L916.0 398.0 L918.0 390.0 L920.0 387.0 L922.0 389.0 L924.0 390.0 L926.0 387.0 L929.0 384.0 L931.0 386.0" fill="none" stroke="#0072B2" stroke-width="2.08" stroke-linejoin="round" stroke-linecap="butt"/>
<path d="M930.2 386.5 L932.2 386.0 L933.2 383.0 L934.2 379.5 L935.0 376.0 L936.3 370.0 L937.5 365.0 L938.5 362.5 L939.5 365.0 L941.0 370.0 L942.3 376.0 L943.8 384.5 L945.0 389.0 L945.0 478.5 L943.4 481.0 L942.3 479.0 L942.2 475.0 L941.0 472.0 L940.8 464.5 L939.0 462.0 L938.5 457.3 L937.2 458.5 L936.2 468.5 L935.8 476.0 L934.2 478.0 L932.8 479.8 L931.5 479.5 L930.2 477.5Z" fill="#0072B2" stroke="#0072B2" stroke-width="0.3"/>
<path d="M935.4 340.6h0M934.4 344.0h0M937.0 345.0h0M933.4 349.0h0M937.6 348.0h0M935.0 351.0h0M937.4 351.4h0M933.0 353.6h0M932.4 357.0h0M931.6 358.6h0" stroke="#ff0000" stroke-opacity="0.93" stroke-width="5.6" stroke-linecap="round" fill="none"/>
</g>
<rect x="79.5" y="15.5" width="906.0" height="527.0" fill="none" stroke="#000" stroke-width="1.11"/>
<path d="M79.5 531.50h-4.86M79.5 472.50h-4.86M79.5 413.50h-4.86M79.5 353.50h-4.86M79.5 294.50h-4.86M79.5 235.50h-4.86M79.5 176.50h-4.86M79.5 116.50h-4.86M79.5 57.50h-4.86M226.50 542.5v4.86M383.50 542.5v4.86M541.50 542.5v4.86M699.50 542.5v4.86M857.50 542.5v4.86" stroke="#000" stroke-width="1.11" fill="none"/>
<g style="filter:grayscale(1)">
<text x="68.9" y="536.8" font-size="14" text-anchor="end" textLength="25.0" lengthAdjust="spacingAndGlyphs">500</text>
<text x="68.9" y="477.5" font-size="14" text-anchor="end" textLength="25.0" lengthAdjust="spacingAndGlyphs">750</text>
<text x="68.9" y="418.3" font-size="14" text-anchor="end" textLength="33.3" lengthAdjust="spacingAndGlyphs">1000</text>
<text x="68.9" y="359.0" font-size="14" text-anchor="end" textLength="33.3" lengthAdjust="spacingAndGlyphs">1250</text>
<text x="68.9" y="299.8" font-size="14" text-anchor="end" textLength="33.3" lengthAdjust="spacingAndGlyphs">1500</text>
<text x="68.9" y="240.5" font-size="14" text-anchor="end" textLength="33.3" lengthAdjust="spacingAndGlyphs">1750</text>
<text x="68.9" y="181.3" font-size="14" text-anchor="end" textLength="33.3" lengthAdjust="spacingAndGlyphs">2000</text>
<text x="68.9" y="122.0" font-size="14" text-anchor="end" textLength="33.3" lengthAdjust="spacingAndGlyphs">2250</text>
<text x="68.9" y="62.8" font-size="14" text-anchor="end" textLength="33.3" lengthAdjust="spacingAndGlyphs">2500</text>
<text x="225.4" y="561.9" font-size="14" text-anchor="middle" textLength="34.4" lengthAdjust="spacingAndGlyphs">2017</text>
<text x="383.4" y="561.9" font-size="14" text-anchor="middle" textLength="34.4" lengthAdjust="spacingAndGlyphs">2019</text>
<text x="541.5" y="561.9" font-size="14" text-anchor="middle" textLength="34.4" lengthAdjust="spacingAndGlyphs">2021</text>
<text x="698.5" y="561.9" font-size="14" text-anchor="middle" textLength="34.4" lengthAdjust="spacingAndGlyphs">2023</text>
<text x="856.5" y="561.9" font-size="14" text-anchor="middle" textLength="34.4" lengthAdjust="spacingAndGlyphs">2025</text>
<text x="532.4" y="581.8" font-size="14" text-anchor="middle" textLength="14.1" lengthAdjust="spacingAndGlyphs">ds</text>
<text transform="translate(24.9 278.7) rotate(-90)" font-size="14" text-anchor="middle">y</text>
</g>
</svg></body></html>
